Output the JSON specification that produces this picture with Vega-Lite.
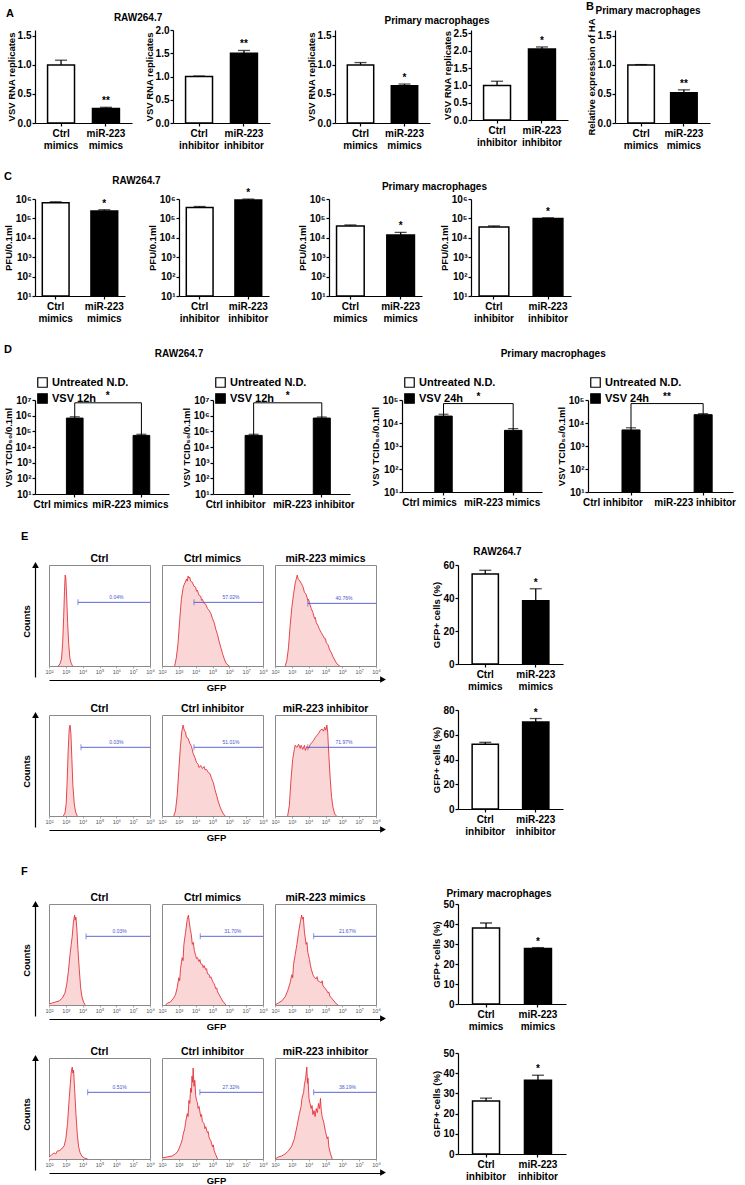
{
"$schema":"https://vega.github.io/schema/vega-lite/v6.json",
"background":"white",
"padding":{"left":3,"top":0,"right":2,"bottom":2},
"config":{
 "font":"Liberation Sans",
 "view":{"stroke":null},
 "axis":{"grid":false,"domainColor":"#000","domainWidth":1.2,"tickColor":"#000","tickWidth":1.2,"tickSize":3,"labelColor":"#000","labelFont":"Liberation Sans","labelFontWeight":"bold","labelFontSize":10,"labelPadding":1,"labelOverlap":false,"titleFont":"Liberation Sans","titleFontWeight":"bold","titleFontSize":9.5,"titleColor":"#000","titlePadding":1},
 "title":{"font":"Liberation Sans","fontWeight":"bold","fontSize":10,"color":"#000","offset":2}
},
"resolve":{"scale":{"fill":"independent"}},
"spacing":21,
"datasets":{
"bars":[
{"p":"A1","g":"Ctrl|mimics","t":"c","v":1.0,"hi":1.08,"s":""},
{"p":"A1","g":"miR-223|mimics","t":"m","v":0.25,"hi":0.27,"s":"**"},
{"p":"A2","g":"Ctrl|inhibitor","t":"c","v":1.0,"hi":1.01,"s":""},
{"p":"A2","g":"miR-223|inhibitor","t":"m","v":1.5,"hi":1.56,"s":"**"},
{"p":"A3","g":"Ctrl|mimics","t":"c","v":1.0,"hi":1.04,"s":""},
{"p":"A3","g":"miR-223|mimics","t":"m","v":0.64,"hi":0.67,"s":"*"},
{"p":"A4","g":"Ctrl|inhibitor","t":"c","v":1.0,"hi":1.12,"s":""},
{"p":"A4","g":"miR-223|inhibitor","t":"m","v":2.05,"hi":2.11,"s":"*"},
{"p":"B1","g":"Ctrl|mimics","t":"c","v":1.0,"hi":1.005,"s":""},
{"p":"B1","g":"miR-223|mimics","t":"m","v":0.52,"hi":0.57,"s":"**"},
{"p":"C1","g":"Ctrl|mimics","t":"c","v":650000,"hi":720000,"s":""},
{"p":"C1","g":"miR-223|mimics","t":"m","v":240000,"hi":280000,"s":"*"},
{"p":"C2","g":"Ctrl|inhibitor","t":"c","v":370000,"hi":410000,"s":""},
{"p":"C2","g":"miR-223|inhibitor","t":"m","v":890000,"hi":990000,"s":"*"},
{"p":"C3","g":"Ctrl|mimics","t":"c","v":41000,"hi":46000,"s":""},
{"p":"C3","g":"miR-223|mimics","t":"m","v":14000,"hi":19000,"s":"*"},
{"p":"C4","g":"Ctrl|inhibitor","t":"c","v":36000,"hi":41000,"s":""},
{"p":"C4","g":"miR-223|inhibitor","t":"m","v":98000,"hi":107000,"s":"*"},
{"p":"E1","g":"Ctrl|mimics","t":"c","v":54.5,"hi":56.8,"s":""},
{"p":"E1","g":"miR-223|mimics","t":"m","v":38.4,"hi":45.6,"s":"*"},
{"p":"E2","g":"Ctrl|inhibitor","t":"c","v":52.3,"hi":53.9,"s":""},
{"p":"E2","g":"miR-223|inhibitor","t":"m","v":70.4,"hi":73.1,"s":"*"},
{"p":"F1","g":"Ctrl|mimics","t":"c","v":38.0,"hi":40.5,"s":""},
{"p":"F1","g":"miR-223|mimics","t":"m","v":27.7,"hi":28.2,"s":"*"},
{"p":"F2","g":"Ctrl|inhibitor","t":"c","v":26.2,"hi":27.7,"s":""},
{"p":"F2","g":"miR-223|inhibitor","t":"m","v":36.5,"hi":39.0,"s":"*"}
],
"dbars":[
{"p":"D1","g":"Ctrl mimics","sr":"VSV 12h","v":700000,"hi":850000,"br":6600000},
{"p":"D1","g":"miR-223 mimics","sr":"VSV 12h","v":55000,"hi":65000,"br":6600000},
{"p":"D2","g":"Ctrl inhibitor","sr":"VSV 12h","v":55000,"hi":65000,"br":6600000},
{"p":"D2","g":"miR-223 inhibitor","sr":"VSV 12h","v":700000,"hi":820000,"br":6600000},
{"p":"D3","g":"Ctrl mimics","sr":"VSV 24h","v":20000,"hi":24000,"br":70000},
{"p":"D3","g":"miR-223 mimics","sr":"VSV 24h","v":4800,"hi":5700,"br":70000},
{"p":"D4","g":"Ctrl inhibitor","sr":"VSV 24h","v":5000,"hi":6200,"br":70000},
{"p":"D4","g":"miR-223 inhibitor","sr":"VSV 24h","v":23000,"hi":25500,"br":70000}
],
"brk":[
{"p":"D1","a":"Ctrl mimics","b":"miR-223 mimics","br":6600000,"s":"*"},
{"p":"D2","a":"Ctrl inhibitor","b":"miR-223 inhibitor","br":6600000,"s":"*"},
{"p":"D3","a":"Ctrl mimics","b":"miR-223 mimics","br":70000,"s":"*"},
{"p":"D4","a":"Ctrl inhibitor","b":"miR-223 inhibitor","br":70000,"s":"**"}
],
"gates":[
{"p":"E1a","x0":3.72,"x1":8,"y":0.63,"tx":6.0,"pct":"0.04%"},
{"p":"E1b","x0":3.9,"x1":8,"y":0.63,"tx":6.1,"pct":"57.02%"},
{"p":"E1c","x0":3.95,"x1":8,"y":0.62,"tx":6.1,"pct":"40.76%"},
{"p":"E2a","x0":3.9,"x1":8,"y":0.68,"tx":6.0,"pct":"0.03%"},
{"p":"E2b","x0":3.9,"x1":8,"y":0.68,"tx":6.1,"pct":"51.01%"},
{"p":"E2c","x0":3.95,"x1":8,"y":0.68,"tx":6.1,"pct":"71.97%"},
{"p":"F1a","x0":4.2,"x1":8,"y":0.68,"tx":6.2,"pct":"0.03%"},
{"p":"F1b","x0":4.27,"x1":8,"y":0.68,"tx":6.2,"pct":"31.70%"},
{"p":"F1c","x0":4.3,"x1":8,"y":0.68,"tx":6.3,"pct":"21.67%"},
{"p":"F2a","x0":4.3,"x1":8,"y":0.66,"tx":6.2,"pct":"0.51%"},
{"p":"F2b","x0":4.25,"x1":8,"y":0.66,"tx":6.1,"pct":"27.32%"},
{"p":"F2c","x0":4.3,"x1":8,"y":0.66,"tx":6.3,"pct":"38.19%"}
],
"hist":[
{"p":"E1a","lg":2.55,"c":0},{"p":"E1a","lg":2.65,"c":0.02},{"p":"E1a","lg":2.74,"c":0.07},{"p":"E1a","lg":2.81,"c":0.22},{"p":"E1a","lg":2.87,"c":0.48},{"p":"E1a","lg":2.92,"c":0.74},{"p":"E1a","lg":2.96,"c":0.9},{"p":"E1a","lg":3.0,"c":0.87},{"p":"E1a","lg":3.05,"c":0.68},{"p":"E1a","lg":3.11,"c":0.42},{"p":"E1a","lg":3.17,"c":0.22},{"p":"E1a","lg":3.24,"c":0.08},{"p":"E1a","lg":3.31,"c":0.03},{"p":"E1a","lg":3.4,"c":0},
{"p":"E1b","lg":2.75,"c":0},{"p":"E1b","lg":2.85,"c":0.08},{"p":"E1b","lg":2.95,"c":0.22},{"p":"E1b","lg":3.05,"c":0.45},{"p":"E1b","lg":3.15,"c":0.66},{"p":"E1b","lg":3.25,"c":0.77},{"p":"E1b","lg":3.3,"c":0.8},{"p":"E1b","lg":3.38,"c":0.83},{"p":"E1b","lg":3.45,"c":0.86},{"p":"E1b","lg":3.5,"c":0.84},{"p":"E1b","lg":3.55,"c":0.89},{"p":"E1b","lg":3.6,"c":0.87},{"p":"E1b","lg":3.65,"c":0.88},{"p":"E1b","lg":3.7,"c":0.84},{"p":"E1b","lg":3.8,"c":0.83},{"p":"E1b","lg":3.9,"c":0.79},{"p":"E1b","lg":4.0,"c":0.78},{"p":"E1b","lg":4.05,"c":0.74},{"p":"E1b","lg":4.1,"c":0.75},{"p":"E1b","lg":4.2,"c":0.7},{"p":"E1b","lg":4.3,"c":0.69},{"p":"E1b","lg":4.35,"c":0.65},{"p":"E1b","lg":4.4,"c":0.66},{"p":"E1b","lg":4.5,"c":0.62},{"p":"E1b","lg":4.6,"c":0.61},{"p":"E1b","lg":4.7,"c":0.57},{"p":"E1b","lg":4.8,"c":0.55},{"p":"E1b","lg":4.9,"c":0.52},{"p":"E1b","lg":5.0,"c":0.47},{"p":"E1b","lg":5.1,"c":0.43},{"p":"E1b","lg":5.2,"c":0.36},{"p":"E1b","lg":5.3,"c":0.31},{"p":"E1b","lg":5.4,"c":0.24},{"p":"E1b","lg":5.5,"c":0.18},{"p":"E1b","lg":5.6,"c":0.12},{"p":"E1b","lg":5.7,"c":0.07},{"p":"E1b","lg":5.8,"c":0.03},{"p":"E1b","lg":5.9,"c":0.01},{"p":"E1b","lg":6.0,"c":0},
{"p":"E1c","lg":2.6,"c":0},{"p":"E1c","lg":2.7,"c":0.05},{"p":"E1c","lg":2.8,"c":0.18},{"p":"E1c","lg":2.9,"c":0.4},{"p":"E1c","lg":3.0,"c":0.58},{"p":"E1c","lg":3.1,"c":0.71},{"p":"E1c","lg":3.2,"c":0.82},{"p":"E1c","lg":3.26,"c":0.86},{"p":"E1c","lg":3.32,"c":0.9},{"p":"E1c","lg":3.38,"c":0.86},{"p":"E1c","lg":3.45,"c":0.85},{"p":"E1c","lg":3.55,"c":0.82},{"p":"E1c","lg":3.65,"c":0.79},{"p":"E1c","lg":3.75,"c":0.73},{"p":"E1c","lg":3.85,"c":0.71},{"p":"E1c","lg":3.95,"c":0.65},{"p":"E1c","lg":4.0,"c":0.66},{"p":"E1c","lg":4.05,"c":0.62},{"p":"E1c","lg":4.15,"c":0.57},{"p":"E1c","lg":4.25,"c":0.53},{"p":"E1c","lg":4.35,"c":0.47},{"p":"E1c","lg":4.4,"c":0.48},{"p":"E1c","lg":4.45,"c":0.43},{"p":"E1c","lg":4.55,"c":0.4},{"p":"E1c","lg":4.65,"c":0.36},{"p":"E1c","lg":4.75,"c":0.33},{"p":"E1c","lg":4.85,"c":0.3},{"p":"E1c","lg":4.95,"c":0.27},{"p":"E1c","lg":5.0,"c":0.27},{"p":"E1c","lg":5.05,"c":0.23},{"p":"E1c","lg":5.15,"c":0.21},{"p":"E1c","lg":5.25,"c":0.16},{"p":"E1c","lg":5.35,"c":0.13},{"p":"E1c","lg":5.45,"c":0.09},{"p":"E1c","lg":5.55,"c":0.06},{"p":"E1c","lg":5.65,"c":0.03},{"p":"E1c","lg":5.75,"c":0.01},{"p":"E1c","lg":5.85,"c":0},
{"p":"E2a","lg":2.85,"c":0},{"p":"E2a","lg":2.95,"c":0.03},{"p":"E2a","lg":3.02,"c":0.12},{"p":"E2a","lg":3.08,"c":0.35},{"p":"E2a","lg":3.14,"c":0.65},{"p":"E2a","lg":3.2,"c":0.86},{"p":"E2a","lg":3.25,"c":0.9},{"p":"E2a","lg":3.3,"c":0.82},{"p":"E2a","lg":3.36,"c":0.56},{"p":"E2a","lg":3.42,"c":0.3},{"p":"E2a","lg":3.5,"c":0.12},{"p":"E2a","lg":3.58,"c":0.04},{"p":"E2a","lg":3.68,"c":0},
{"p":"E2b","lg":2.7,"c":0},{"p":"E2b","lg":2.8,"c":0.05},{"p":"E2b","lg":2.9,"c":0.2},{"p":"E2b","lg":3.0,"c":0.46},{"p":"E2b","lg":3.1,"c":0.7},{"p":"E2b","lg":3.18,"c":0.84},{"p":"E2b","lg":3.25,"c":0.9},{"p":"E2b","lg":3.32,"c":0.85},{"p":"E2b","lg":3.4,"c":0.83},{"p":"E2b","lg":3.45,"c":0.78},{"p":"E2b","lg":3.55,"c":0.77},{"p":"E2b","lg":3.65,"c":0.72},{"p":"E2b","lg":3.75,"c":0.69},{"p":"E2b","lg":3.85,"c":0.62},{"p":"E2b","lg":3.95,"c":0.58},{"p":"E2b","lg":4.05,"c":0.53},{"p":"E2b","lg":4.15,"c":0.51},{"p":"E2b","lg":4.2,"c":0.48},{"p":"E2b","lg":4.3,"c":0.5},{"p":"E2b","lg":4.4,"c":0.47},{"p":"E2b","lg":4.5,"c":0.49},{"p":"E2b","lg":4.55,"c":0.46},{"p":"E2b","lg":4.65,"c":0.46},{"p":"E2b","lg":4.75,"c":0.43},{"p":"E2b","lg":4.85,"c":0.42},{"p":"E2b","lg":4.95,"c":0.37},{"p":"E2b","lg":5.05,"c":0.33},{"p":"E2b","lg":5.15,"c":0.26},{"p":"E2b","lg":5.25,"c":0.2},{"p":"E2b","lg":5.35,"c":0.14},{"p":"E2b","lg":5.45,"c":0.09},{"p":"E2b","lg":5.55,"c":0.05},{"p":"E2b","lg":5.65,"c":0.02},{"p":"E2b","lg":5.75,"c":0},
{"p":"E2c","lg":2.75,"c":0},{"p":"E2c","lg":2.85,"c":0.1},{"p":"E2c","lg":2.95,"c":0.36},{"p":"E2c","lg":3.05,"c":0.56},{"p":"E2c","lg":3.15,"c":0.66},{"p":"E2c","lg":3.2,"c":0.7},{"p":"E2c","lg":3.3,"c":0.68},{"p":"E2c","lg":3.4,"c":0.71},{"p":"E2c","lg":3.5,"c":0.67},{"p":"E2c","lg":3.55,"c":0.7},{"p":"E2c","lg":3.65,"c":0.66},{"p":"E2c","lg":3.75,"c":0.7},{"p":"E2c","lg":3.8,"c":0.65},{"p":"E2c","lg":3.9,"c":0.69},{"p":"E2c","lg":4.0,"c":0.67},{"p":"E2c","lg":4.1,"c":0.71},{"p":"E2c","lg":4.2,"c":0.73},{"p":"E2c","lg":4.3,"c":0.75},{"p":"E2c","lg":4.4,"c":0.78},{"p":"E2c","lg":4.5,"c":0.8},{"p":"E2c","lg":4.6,"c":0.82},{"p":"E2c","lg":4.7,"c":0.85},{"p":"E2c","lg":4.8,"c":0.86},{"p":"E2c","lg":4.88,"c":0.84},{"p":"E2c","lg":4.95,"c":0.88},{"p":"E2c","lg":5.02,"c":0.85},{"p":"E2c","lg":5.08,"c":0.9},{"p":"E2c","lg":5.13,"c":0.83},{"p":"E2c","lg":5.2,"c":0.6},{"p":"E2c","lg":5.28,"c":0.37},{"p":"E2c","lg":5.36,"c":0.19},{"p":"E2c","lg":5.45,"c":0.08},{"p":"E2c","lg":5.55,"c":0.02},{"p":"E2c","lg":5.65,"c":0},
{"p":"F1a","lg":2.0,"c":0.01},{"p":"F1a","lg":2.2,"c":0.02},{"p":"F1a","lg":2.4,"c":0.03},{"p":"F1a","lg":2.6,"c":0.04},{"p":"F1a","lg":2.8,"c":0.07},{"p":"F1a","lg":2.95,"c":0.12},{"p":"F1a","lg":3.05,"c":0.2},{"p":"F1a","lg":3.15,"c":0.33},{"p":"F1a","lg":3.25,"c":0.5},{"p":"F1a","lg":3.32,"c":0.6},{"p":"F1a","lg":3.38,"c":0.68},{"p":"F1a","lg":3.45,"c":0.82},{"p":"F1a","lg":3.52,"c":0.89},{"p":"F1a","lg":3.56,"c":0.84},{"p":"F1a","lg":3.6,"c":0.87},{"p":"F1a","lg":3.66,"c":0.74},{"p":"F1a","lg":3.72,"c":0.55},{"p":"F1a","lg":3.8,"c":0.35},{"p":"F1a","lg":3.88,"c":0.17},{"p":"F1a","lg":3.96,"c":0.08},{"p":"F1a","lg":4.05,"c":0.03},{"p":"F1a","lg":4.15,"c":0},
{"p":"F1b","lg":2.2,"c":0},{"p":"F1b","lg":2.35,"c":0.02},{"p":"F1b","lg":2.5,"c":0.03},{"p":"F1b","lg":2.65,"c":0.06},{"p":"F1b","lg":2.8,"c":0.1},{"p":"F1b","lg":2.9,"c":0.17},{"p":"F1b","lg":3.0,"c":0.27},{"p":"F1b","lg":3.05,"c":0.24},{"p":"F1b","lg":3.1,"c":0.36},{"p":"F1b","lg":3.2,"c":0.47},{"p":"F1b","lg":3.25,"c":0.44},{"p":"F1b","lg":3.3,"c":0.6},{"p":"F1b","lg":3.4,"c":0.72},{"p":"F1b","lg":3.5,"c":0.85},{"p":"F1b","lg":3.57,"c":0.89},{"p":"F1b","lg":3.62,"c":0.82},{"p":"F1b","lg":3.68,"c":0.75},{"p":"F1b","lg":3.74,"c":0.7},{"p":"F1b","lg":3.8,"c":0.6},{"p":"F1b","lg":3.86,"c":0.62},{"p":"F1b","lg":3.92,"c":0.54},{"p":"F1b","lg":4.0,"c":0.49},{"p":"F1b","lg":4.05,"c":0.46},{"p":"F1b","lg":4.1,"c":0.47},{"p":"F1b","lg":4.2,"c":0.43},{"p":"F1b","lg":4.25,"c":0.45},{"p":"F1b","lg":4.3,"c":0.41},{"p":"F1b","lg":4.4,"c":0.4},{"p":"F1b","lg":4.45,"c":0.37},{"p":"F1b","lg":4.5,"c":0.39},{"p":"F1b","lg":4.6,"c":0.35},{"p":"F1b","lg":4.65,"c":0.36},{"p":"F1b","lg":4.7,"c":0.31},{"p":"F1b","lg":4.8,"c":0.3},{"p":"F1b","lg":4.85,"c":0.27},{"p":"F1b","lg":4.9,"c":0.28},{"p":"F1b","lg":5.0,"c":0.24},{"p":"F1b","lg":5.05,"c":0.22},{"p":"F1b","lg":5.1,"c":0.21},{"p":"F1b","lg":5.2,"c":0.16},{"p":"F1b","lg":5.25,"c":0.17},{"p":"F1b","lg":5.3,"c":0.13},{"p":"F1b","lg":5.4,"c":0.1},{"p":"F1b","lg":5.5,"c":0.07},{"p":"F1b","lg":5.6,"c":0.04},{"p":"F1b","lg":5.7,"c":0.02},{"p":"F1b","lg":5.8,"c":0},
{"p":"F1c","lg":2.0,"c":0},{"p":"F1c","lg":2.2,"c":0.02},{"p":"F1c","lg":2.4,"c":0.04},{"p":"F1c","lg":2.6,"c":0.08},{"p":"F1c","lg":2.75,"c":0.14},{"p":"F1c","lg":2.9,"c":0.22},{"p":"F1c","lg":3.0,"c":0.3},{"p":"F1c","lg":3.05,"c":0.27},{"p":"F1c","lg":3.1,"c":0.4},{"p":"F1c","lg":3.2,"c":0.5},{"p":"F1c","lg":3.3,"c":0.6},{"p":"F1c","lg":3.4,"c":0.72},{"p":"F1c","lg":3.5,"c":0.82},{"p":"F1c","lg":3.58,"c":0.89},{"p":"F1c","lg":3.63,"c":0.85},{"p":"F1c","lg":3.68,"c":0.87},{"p":"F1c","lg":3.75,"c":0.72},{"p":"F1c","lg":3.85,"c":0.6},{"p":"F1c","lg":3.9,"c":0.62},{"p":"F1c","lg":3.95,"c":0.52},{"p":"F1c","lg":4.05,"c":0.45},{"p":"F1c","lg":4.1,"c":0.4},{"p":"F1c","lg":4.15,"c":0.36},{"p":"F1c","lg":4.25,"c":0.3},{"p":"F1c","lg":4.35,"c":0.27},{"p":"F1c","lg":4.45,"c":0.26},{"p":"F1c","lg":4.5,"c":0.28},{"p":"F1c","lg":4.55,"c":0.24},{"p":"F1c","lg":4.65,"c":0.23},{"p":"F1c","lg":4.75,"c":0.22},{"p":"F1c","lg":4.8,"c":0.24},{"p":"F1c","lg":4.85,"c":0.19},{"p":"F1c","lg":4.95,"c":0.17},{"p":"F1c","lg":5.05,"c":0.15},{"p":"F1c","lg":5.15,"c":0.12},{"p":"F1c","lg":5.2,"c":0.13},{"p":"F1c","lg":5.25,"c":0.09},{"p":"F1c","lg":5.35,"c":0.07},{"p":"F1c","lg":5.45,"c":0.05},{"p":"F1c","lg":5.55,"c":0.03},{"p":"F1c","lg":5.65,"c":0.01},{"p":"F1c","lg":5.75,"c":0},
{"p":"F2a","lg":2.0,"c":0.02},{"p":"F2a","lg":2.15,"c":0.04},{"p":"F2a","lg":2.3,"c":0.06},{"p":"F2a","lg":2.4,"c":0.05},{"p":"F2a","lg":2.5,"c":0.08},{"p":"F2a","lg":2.6,"c":0.08},{"p":"F2a","lg":2.75,"c":0.1},{"p":"F2a","lg":2.9,"c":0.13},{"p":"F2a","lg":3.0,"c":0.2},{"p":"F2a","lg":3.1,"c":0.35},{"p":"F2a","lg":3.2,"c":0.6},{"p":"F2a","lg":3.27,"c":0.75},{"p":"F2a","lg":3.32,"c":0.86},{"p":"F2a","lg":3.38,"c":0.91},{"p":"F2a","lg":3.42,"c":0.85},{"p":"F2a","lg":3.46,"c":0.88},{"p":"F2a","lg":3.52,"c":0.7},{"p":"F2a","lg":3.6,"c":0.45},{"p":"F2a","lg":3.68,"c":0.25},{"p":"F2a","lg":3.76,"c":0.12},{"p":"F2a","lg":3.85,"c":0.06},{"p":"F2a","lg":3.95,"c":0.03},{"p":"F2a","lg":4.1,"c":0.01},{"p":"F2a","lg":4.3,"c":0},
{"p":"F2b","lg":2.0,"c":0.01},{"p":"F2b","lg":2.3,"c":0.02},{"p":"F2b","lg":2.6,"c":0.03},{"p":"F2b","lg":2.8,"c":0.05},{"p":"F2b","lg":2.95,"c":0.08},{"p":"F2b","lg":3.1,"c":0.14},{"p":"F2b","lg":3.2,"c":0.19},{"p":"F2b","lg":3.25,"c":0.24},{"p":"F2b","lg":3.35,"c":0.3},{"p":"F2b","lg":3.4,"c":0.36},{"p":"F2b","lg":3.5,"c":0.45},{"p":"F2b","lg":3.55,"c":0.42},{"p":"F2b","lg":3.6,"c":0.58},{"p":"F2b","lg":3.65,"c":0.55},{"p":"F2b","lg":3.7,"c":0.7},{"p":"F2b","lg":3.75,"c":0.66},{"p":"F2b","lg":3.78,"c":0.82},{"p":"F2b","lg":3.82,"c":0.76},{"p":"F2b","lg":3.85,"c":0.9},{"p":"F2b","lg":3.9,"c":0.72},{"p":"F2b","lg":3.95,"c":0.78},{"p":"F2b","lg":4.0,"c":0.63},{"p":"F2b","lg":4.05,"c":0.58},{"p":"F2b","lg":4.1,"c":0.56},{"p":"F2b","lg":4.15,"c":0.5},{"p":"F2b","lg":4.2,"c":0.52},{"p":"F2b","lg":4.3,"c":0.42},{"p":"F2b","lg":4.35,"c":0.44},{"p":"F2b","lg":4.4,"c":0.37},{"p":"F2b","lg":4.5,"c":0.35},{"p":"F2b","lg":4.55,"c":0.3},{"p":"F2b","lg":4.6,"c":0.32},{"p":"F2b","lg":4.7,"c":0.26},{"p":"F2b","lg":4.75,"c":0.27},{"p":"F2b","lg":4.8,"c":0.21},{"p":"F2b","lg":4.9,"c":0.18},{"p":"F2b","lg":5.0,"c":0.12},{"p":"F2b","lg":5.05,"c":0.14},{"p":"F2b","lg":5.1,"c":0.08},{"p":"F2b","lg":5.2,"c":0.04},{"p":"F2b","lg":5.3,"c":0},
{"p":"F2c","lg":2.0,"c":0},{"p":"F2c","lg":2.2,"c":0.02},{"p":"F2c","lg":2.4,"c":0.03},{"p":"F2c","lg":2.6,"c":0.05},{"p":"F2c","lg":2.8,"c":0.08},{"p":"F2c","lg":3.0,"c":0.13},{"p":"F2c","lg":3.15,"c":0.2},{"p":"F2c","lg":3.3,"c":0.32},{"p":"F2c","lg":3.45,"c":0.45},{"p":"F2c","lg":3.55,"c":0.52},{"p":"F2c","lg":3.6,"c":0.6},{"p":"F2c","lg":3.7,"c":0.66},{"p":"F2c","lg":3.75,"c":0.74},{"p":"F2c","lg":3.82,"c":0.8},{"p":"F2c","lg":3.89,"c":0.91},{"p":"F2c","lg":3.93,"c":0.75},{"p":"F2c","lg":3.96,"c":0.8},{"p":"F2c","lg":4.02,"c":0.6},{"p":"F2c","lg":4.08,"c":0.55},{"p":"F2c","lg":4.15,"c":0.5},{"p":"F2c","lg":4.2,"c":0.53},{"p":"F2c","lg":4.25,"c":0.44},{"p":"F2c","lg":4.32,"c":0.48},{"p":"F2c","lg":4.38,"c":0.42},{"p":"F2c","lg":4.45,"c":0.5},{"p":"F2c","lg":4.52,"c":0.46},{"p":"F2c","lg":4.58,"c":0.55},{"p":"F2c","lg":4.65,"c":0.5},{"p":"F2c","lg":4.7,"c":0.6},{"p":"F2c","lg":4.75,"c":0.48},{"p":"F2c","lg":4.8,"c":0.42},{"p":"F2c","lg":4.9,"c":0.36},{"p":"F2c","lg":5.0,"c":0.27},{"p":"F2c","lg":5.1,"c":0.2},{"p":"F2c","lg":5.15,"c":0.22},{"p":"F2c","lg":5.2,"c":0.12},{"p":"F2c","lg":5.3,"c":0.05},{"p":"F2c","lg":5.4,"c":0}
]
},
"vconcat":[
{"spacing":21,"resolve":{"scale":{"fill":"independent"}},"vconcat":[
{"spacing":18,"resolve":{"scale":{"fill":"independent"}},"hconcat":[
 {"title":{"text":"A","anchor":"start","fontSize":11,"offset":-6},"spacing":36,"hconcat":[
  {"title":{"text":"RAW264.7","anchor":"middle"},"spacing":12,"hconcat":[
   {"width":97,"height":93,"data":{"name":"bars"},"transform":[{"filter":"datum.p==='A1'"}],
    "encoding":{"x":{"field":"g","type":"nominal","sort":null,"title":null,"scale":{"paddingInner":0.4,"paddingOuter":0.28},"axis":{"labelExpr":"split(datum.label,'|')","labelAngle":0,"labelLineHeight":12,"labelPadding":2}}},
    "layer":[
     {"mark":{"type":"bar","stroke":"#000","strokeWidth":1.5},"encoding":{"y":{"field":"v","type":"quantitative","title":"VSV RNA replicates","scale":{"domain":[0,1.5]},"axis":{"values":[0,0.5,1,1.5],"format":".1f"}},"fill":{"field":"t","type":"nominal","scale":{"domain":["c","m"],"range":["#ffffff","#000000"]},"legend":null}}},
     {"mark":{"type":"rule","strokeWidth":1.3,"color":"#000"},"encoding":{"y":{"field":"v","type":"quantitative","title":"VSV RNA replicates","axis":{"values":[0,0.5,1,1.5],"format":".1f"}},"y2":{"field":"hi"}}},
     {"mark":{"type":"tick","thickness":1.3,"size":12,"color":"#000"},"encoding":{"y":{"field":"hi","type":"quantitative","title":"VSV RNA replicates","axis":{"values":[0,0.5,1,1.5],"format":".1f"}}}},
     {"mark":{"type":"text","dy":-6,"fontWeight":"bold","fontSize":10,"color":"#000"},"encoding":{"y":{"field":"hi","type":"quantitative","title":"VSV RNA replicates","axis":{"values":[0,0.5,1,1.5],"format":".1f"}},"text":{"field":"s"}}}
    ]},
   {"width":97,"height":93,"data":{"name":"bars"},"transform":[{"filter":"datum.p==='A2'"}],
    "encoding":{"x":{"field":"g","type":"nominal","sort":null,"title":null,"scale":{"paddingInner":0.4,"paddingOuter":0.28},"axis":{"labelExpr":"split(datum.label,'|')","labelAngle":0,"labelLineHeight":12,"labelPadding":2}}},
    "layer":[
     {"mark":{"type":"bar","stroke":"#000","strokeWidth":1.5},"encoding":{"y":{"field":"v","type":"quantitative","title":"VSV RNA replicates","scale":{"domain":[0,2]},"axis":{"values":[0,0.5,1,1.5,2],"format":".1f"}},"fill":{"field":"t","type":"nominal","scale":{"domain":["c","m"],"range":["#ffffff","#000000"]},"legend":null}}},
     {"mark":{"type":"rule","strokeWidth":1.3,"color":"#000"},"encoding":{"y":{"field":"v","type":"quantitative","title":"VSV RNA replicates","axis":{"values":[0,0.5,1,1.5,2],"format":".1f"}},"y2":{"field":"hi"}}},
     {"mark":{"type":"tick","thickness":1.3,"size":12,"color":"#000"},"encoding":{"y":{"field":"hi","type":"quantitative","title":"VSV RNA replicates","axis":{"values":[0,0.5,1,1.5,2],"format":".1f"}}}},
     {"mark":{"type":"text","dy":-6,"fontWeight":"bold","fontSize":10,"color":"#000"},"encoding":{"y":{"field":"hi","type":"quantitative","title":"VSV RNA replicates","axis":{"values":[0,0.5,1,1.5,2],"format":".1f"}},"text":{"field":"s"}}}
    ]}
  ]},
  {"title":{"text":"Primary macrophages","anchor":"middle"},"spacing":12,"hconcat":[
   {"width":95,"height":93,"data":{"name":"bars"},"transform":[{"filter":"datum.p==='A3'"}],
    "encoding":{"x":{"field":"g","type":"nominal","sort":null,"title":null,"scale":{"paddingInner":0.4,"paddingOuter":0.28},"axis":{"labelExpr":"split(datum.label,'|')","labelAngle":0,"labelLineHeight":12,"labelPadding":2}}},
    "layer":[
     {"mark":{"type":"bar","stroke":"#000","strokeWidth":1.5},"encoding":{"y":{"field":"v","type":"quantitative","title":"VSV RNA replicates","scale":{"domain":[0,1.5]},"axis":{"values":[0,0.5,1,1.5],"format":".1f"}},"fill":{"field":"t","type":"nominal","scale":{"domain":["c","m"],"range":["#ffffff","#000000"]},"legend":null}}},
     {"mark":{"type":"rule","strokeWidth":1.3,"color":"#000"},"encoding":{"y":{"field":"v","type":"quantitative","title":"VSV RNA replicates","axis":{"values":[0,0.5,1,1.5],"format":".1f"}},"y2":{"field":"hi"}}},
     {"mark":{"type":"tick","thickness":1.3,"size":12,"color":"#000"},"encoding":{"y":{"field":"hi","type":"quantitative","title":"VSV RNA replicates","axis":{"values":[0,0.5,1,1.5],"format":".1f"}}}},
     {"mark":{"type":"text","dy":-6,"fontWeight":"bold","fontSize":10,"color":"#000"},"encoding":{"y":{"field":"hi","type":"quantitative","title":"VSV RNA replicates","axis":{"values":[0,0.5,1,1.5],"format":".1f"}},"text":{"field":"s"}}}
    ]},
   {"width":97,"height":90,"data":{"name":"bars"},"transform":[{"filter":"datum.p==='A4'"}],
    "encoding":{"x":{"field":"g","type":"nominal","sort":null,"title":null,"scale":{"paddingInner":0.4,"paddingOuter":0.28},"axis":{"labelExpr":"split(datum.label,'|')","labelAngle":0,"labelLineHeight":12,"labelPadding":2}}},
    "layer":[
     {"mark":{"type":"bar","stroke":"#000","strokeWidth":1.5},"encoding":{"y":{"field":"v","type":"quantitative","title":"VSV RNA replicates","scale":{"domain":[0,2.5]},"axis":{"values":[0,0.5,1,1.5,2,2.5],"format":".1f"}},"fill":{"field":"t","type":"nominal","scale":{"domain":["c","m"],"range":["#ffffff","#000000"]},"legend":null}}},
     {"mark":{"type":"rule","strokeWidth":1.3,"color":"#000"},"encoding":{"y":{"field":"v","type":"quantitative","title":"VSV RNA replicates","axis":{"values":[0,0.5,1,1.5,2,2.5],"format":".1f"}},"y2":{"field":"hi"}}},
     {"mark":{"type":"tick","thickness":1.3,"size":12,"color":"#000"},"encoding":{"y":{"field":"hi","type":"quantitative","title":"VSV RNA replicates","axis":{"values":[0,0.5,1,1.5,2,2.5],"format":".1f"}}}},
     {"mark":{"type":"text","dy":-6,"fontWeight":"bold","fontSize":10,"color":"#000"},"encoding":{"y":{"field":"hi","type":"quantitative","title":"VSV RNA replicates","axis":{"values":[0,0.5,1,1.5,2,2.5],"format":".1f"}},"text":{"field":"s"}}}
    ]}
  ]}
 ]},
 {"title":{"text":"B","anchor":"start","fontSize":11,"offset":-6},"hconcat":[
  {"title":{"text":"Primary macrophages","anchor":"middle"},"hconcat":[
   {"width":95,"height":93,"data":{"name":"bars"},"transform":[{"filter":"datum.p==='B1'"}],
    "encoding":{"x":{"field":"g","type":"nominal","sort":null,"title":null,"scale":{"paddingInner":0.38,"paddingOuter":0.3},"axis":{"labelExpr":"split(datum.label,'|')","labelAngle":0,"labelLineHeight":12,"labelPadding":2}}},
    "layer":[
     {"mark":{"type":"bar","stroke":"#000","strokeWidth":1.5},"encoding":{"y":{"field":"v","type":"quantitative","title":"Relative expression of HA","scale":{"domain":[0,1.5]},"axis":{"values":[0,0.5,1,1.5],"format":".1f"}},"fill":{"field":"t","type":"nominal","scale":{"domain":["c","m"],"range":["#ffffff","#000000"]},"legend":null}}},
     {"mark":{"type":"rule","strokeWidth":1.3,"color":"#000"},"encoding":{"y":{"field":"v","type":"quantitative","title":"Relative expression of HA","axis":{"values":[0,0.5,1,1.5],"format":".1f"}},"y2":{"field":"hi"}}},
     {"mark":{"type":"tick","thickness":1.3,"size":12,"color":"#000"},"encoding":{"y":{"field":"hi","type":"quantitative","title":"Relative expression of HA","axis":{"values":[0,0.5,1,1.5],"format":".1f"}}}},
     {"mark":{"type":"text","dy":-6,"fontWeight":"bold","fontSize":10,"color":"#000"},"encoding":{"y":{"field":"hi","type":"quantitative","title":"Relative expression of HA","axis":{"values":[0,0.5,1,1.5],"format":".1f"}},"text":{"field":"s"}}}
    ]}
  ]}
 ]}
]},
{"title":{"text":"C","anchor":"start","fontSize":11,"offset":-6},"spacing":28,"resolve":{"scale":{"fill":"independent"}},"hconcat":[
 {"title":{"text":"RAW264.7","anchor":"middle"},"spacing":22,"hconcat":[
  {"width":90,"height":97,"data":{"name":"bars"},"transform":[{"filter":"datum.p==='C1'"}],
   "encoding":{"x":{"field":"g","type":"nominal","sort":null,"title":null,"scale":{"paddingInner":0.45,"paddingOuter":0.15},"axis":{"labelExpr":"split(datum.label,'|')","labelAngle":0,"labelLineHeight":12,"labelPadding":2}}},
   "layer":[
    {"mark":{"type":"bar","stroke":"#000","strokeWidth":1.5},"encoding":{"y":{"field":"v","type":"quantitative","title":"PFU/0.1ml","scale":{"type":"log","domain":[10,1000000]},"axis":{"values":[10,100,1000,10000,100000,1000000],"labelExpr":"'10'+['⁰','¹','²','³','⁴','⁵','⁶','⁷','⁸'][round(log(datum.value)/LN10)]"}},"y2":{"datum":10},"fill":{"field":"t","type":"nominal","scale":{"domain":["c","m"],"range":["#ffffff","#000000"]},"legend":null}}},
    {"mark":{"type":"rule","strokeWidth":1.3,"color":"#000"},"encoding":{"y":{"field":"v","type":"quantitative","title":"PFU/0.1ml","axis":{"values":[10,100,1000,10000,100000,1000000],"labelExpr":"'10'+['⁰','¹','²','³','⁴','⁵','⁶','⁷','⁸'][round(log(datum.value)/LN10)]"}},"y2":{"field":"hi"}}},
    {"mark":{"type":"tick","thickness":1.3,"size":12,"color":"#000"},"encoding":{"y":{"field":"hi","type":"quantitative","title":"PFU/0.1ml","axis":{"values":[10,100,1000,10000,100000,1000000],"labelExpr":"'10'+['⁰','¹','²','³','⁴','⁵','⁶','⁷','⁸'][round(log(datum.value)/LN10)]"}}}},
    {"mark":{"type":"text","dy":-6,"fontWeight":"bold","fontSize":10,"color":"#000"},"encoding":{"y":{"field":"hi","type":"quantitative","title":"PFU/0.1ml","axis":{"values":[10,100,1000,10000,100000,1000000],"labelExpr":"'10'+['⁰','¹','²','³','⁴','⁵','⁶','⁷','⁸'][round(log(datum.value)/LN10)]"}},"text":{"field":"s"}}}
   ]},
  {"width":90,"height":97,"data":{"name":"bars"},"transform":[{"filter":"datum.p==='C2'"}],
   "encoding":{"x":{"field":"g","type":"nominal","sort":null,"title":null,"scale":{"paddingInner":0.45,"paddingOuter":0.15},"axis":{"labelExpr":"split(datum.label,'|')","labelAngle":0,"labelLineHeight":12,"labelPadding":2}}},
   "layer":[
    {"mark":{"type":"bar","stroke":"#000","strokeWidth":1.5},"encoding":{"y":{"field":"v","type":"quantitative","title":"PFU/0.1ml","scale":{"type":"log","domain":[10,1000000]},"axis":{"values":[10,100,1000,10000,100000,1000000],"labelExpr":"'10'+['⁰','¹','²','³','⁴','⁵','⁶','⁷','⁸'][round(log(datum.value)/LN10)]"}},"y2":{"datum":10},"fill":{"field":"t","type":"nominal","scale":{"domain":["c","m"],"range":["#ffffff","#000000"]},"legend":null}}},
    {"mark":{"type":"rule","strokeWidth":1.3,"color":"#000"},"encoding":{"y":{"field":"v","type":"quantitative","title":"PFU/0.1ml","axis":{"values":[10,100,1000,10000,100000,1000000],"labelExpr":"'10'+['⁰','¹','²','³','⁴','⁵','⁶','⁷','⁸'][round(log(datum.value)/LN10)]"}},"y2":{"field":"hi"}}},
    {"mark":{"type":"tick","thickness":1.3,"size":12,"color":"#000"},"encoding":{"y":{"field":"hi","type":"quantitative","title":"PFU/0.1ml","axis":{"values":[10,100,1000,10000,100000,1000000],"labelExpr":"'10'+['⁰','¹','²','³','⁴','⁵','⁶','⁷','⁸'][round(log(datum.value)/LN10)]"}}}},
    {"mark":{"type":"text","dy":-6,"fontWeight":"bold","fontSize":10,"color":"#000"},"encoding":{"y":{"field":"hi","type":"quantitative","title":"PFU/0.1ml","axis":{"values":[10,100,1000,10000,100000,1000000],"labelExpr":"'10'+['⁰','¹','²','³','⁴','⁵','⁶','⁷','⁸'][round(log(datum.value)/LN10)]"}},"text":{"field":"s"}}}
   ]}
 ]},
 {"title":{"text":"Primary macrophages","anchor":"middle"},"spacing":17,"hconcat":[
  {"width":93,"height":97,"data":{"name":"bars"},"transform":[{"filter":"datum.p==='C3'"}],
   "encoding":{"x":{"field":"g","type":"nominal","sort":null,"title":null,"scale":{"paddingInner":0.45,"paddingOuter":0.15},"axis":{"labelExpr":"split(datum.label,'|')","labelAngle":0,"labelLineHeight":12,"labelPadding":2}}},
   "layer":[
    {"mark":{"type":"bar","stroke":"#000","strokeWidth":1.5},"encoding":{"y":{"field":"v","type":"quantitative","title":"PFU/0.1ml","scale":{"type":"log","domain":[10,1000000]},"axis":{"values":[10,100,1000,10000,100000,1000000],"labelExpr":"'10'+['⁰','¹','²','³','⁴','⁵','⁶','⁷','⁸'][round(log(datum.value)/LN10)]"}},"y2":{"datum":10},"fill":{"field":"t","type":"nominal","scale":{"domain":["c","m"],"range":["#ffffff","#000000"]},"legend":null}}},
    {"mark":{"type":"rule","strokeWidth":1.3,"color":"#000"},"encoding":{"y":{"field":"v","type":"quantitative","title":"PFU/0.1ml","axis":{"values":[10,100,1000,10000,100000,1000000],"labelExpr":"'10'+['⁰','¹','²','³','⁴','⁵','⁶','⁷','⁸'][round(log(datum.value)/LN10)]"}},"y2":{"field":"hi"}}},
    {"mark":{"type":"tick","thickness":1.3,"size":12,"color":"#000"},"encoding":{"y":{"field":"hi","type":"quantitative","title":"PFU/0.1ml","axis":{"values":[10,100,1000,10000,100000,1000000],"labelExpr":"'10'+['⁰','¹','²','³','⁴','⁵','⁶','⁷','⁸'][round(log(datum.value)/LN10)]"}}}},
    {"mark":{"type":"text","dy":-6,"fontWeight":"bold","fontSize":10,"color":"#000"},"encoding":{"y":{"field":"hi","type":"quantitative","title":"PFU/0.1ml","axis":{"values":[10,100,1000,10000,100000,1000000],"labelExpr":"'10'+['⁰','¹','²','³','⁴','⁵','⁶','⁷','⁸'][round(log(datum.value)/LN10)]"}},"text":{"field":"s"}}}
   ]},
  {"width":100,"height":97,"data":{"name":"bars"},"transform":[{"filter":"datum.p==='C4'"}],
   "encoding":{"x":{"field":"g","type":"nominal","sort":null,"title":null,"scale":{"paddingInner":0.45,"paddingOuter":0.15},"axis":{"labelExpr":"split(datum.label,'|')","labelAngle":0,"labelLineHeight":12,"labelPadding":2}}},
   "layer":[
    {"mark":{"type":"bar","stroke":"#000","strokeWidth":1.5},"encoding":{"y":{"field":"v","type":"quantitative","title":"PFU/0.1ml","scale":{"type":"log","domain":[10,1000000]},"axis":{"values":[10,100,1000,10000,100000,1000000],"labelExpr":"'10'+['⁰','¹','²','³','⁴','⁵','⁶','⁷','⁸'][round(log(datum.value)/LN10)]"}},"y2":{"datum":10},"fill":{"field":"t","type":"nominal","scale":{"domain":["c","m"],"range":["#ffffff","#000000"]},"legend":null}}},
    {"mark":{"type":"rule","strokeWidth":1.3,"color":"#000"},"encoding":{"y":{"field":"v","type":"quantitative","title":"PFU/0.1ml","axis":{"values":[10,100,1000,10000,100000,1000000],"labelExpr":"'10'+['⁰','¹','²','³','⁴','⁵','⁶','⁷','⁸'][round(log(datum.value)/LN10)]"}},"y2":{"field":"hi"}}},
    {"mark":{"type":"tick","thickness":1.3,"size":12,"color":"#000"},"encoding":{"y":{"field":"hi","type":"quantitative","title":"PFU/0.1ml","axis":{"values":[10,100,1000,10000,100000,1000000],"labelExpr":"'10'+['⁰','¹','²','³','⁴','⁵','⁶','⁷','⁸'][round(log(datum.value)/LN10)]"}}}},
    {"mark":{"type":"text","dy":-6,"fontWeight":"bold","fontSize":10,"color":"#000"},"encoding":{"y":{"field":"hi","type":"quantitative","title":"PFU/0.1ml","axis":{"values":[10,100,1000,10000,100000,1000000],"labelExpr":"'10'+['⁰','¹','²','³','⁴','⁵','⁶','⁷','⁸'][round(log(datum.value)/LN10)]"}},"text":{"field":"s"}}}
   ]}
 ]}
]},
{"title":{"text":"D","anchor":"start","fontSize":11,"offset":-6},"spacing":15,"resolve":{"scale":{"fill":"independent"}},"hconcat":[
 {"title":{"text":"RAW264.7","anchor":"middle","offset":18},"spacing":12,"resolve":{"scale":{"fill":"independent"}},"hconcat":[
  {"width":134,"height":94,"layer":[
   {"data":{"name":"dbars"},"transform":[{"filter":"datum.p==='D1'"}],"mark":{"type":"bar","stroke":"#000","strokeWidth":1},
    "encoding":{"x":{"field":"g","type":"nominal","title":null,"scale":{"domain":["Ctrl mimics","miR-223 mimics"],"paddingInner":0.75,"paddingOuter":0.38,"align":0.62},"axis":{"labelAngle":0,"labelOffset":{"condition":{"test":"datum.value==='Ctrl mimics'","value":-14},"value":-11},"labelPadding":2}},
     "y":{"field":"v","type":"quantitative","title":"VSV TCID₅₀/0.1ml","scale":{"type":"log","domain":[10,10000000]},"axis":{"values":[10,100,1000,10000,100000,1000000,10000000],"labelExpr":"'10'+['⁰','¹','²','³','⁴','⁵','⁶','⁷','⁸'][round(log(datum.value)/LN10)]"}},
     "y2":{"datum":10},
     "fill":{"field":"sr","type":"nominal","scale":{"domain":["Untreated N.D.","VSV 12h"],"range":["#ffffff","#000000"]},"legend":{"orient":"none","legendX":2,"legendY":-23,"title":null,"symbolType":"square","symbolSize":90,"symbolStrokeColor":"#000","symbolStrokeWidth":1.2,"labelFontSize":11,"labelFontWeight":"bold","labelColor":"#000","rowPadding":1,"padding":0}}}},
   {"data":{"name":"dbars"},"transform":[{"filter":"datum.p==='D1'"}],"mark":{"type":"rule","strokeWidth":1.2,"color":"#000"},"encoding":{"x":{"field":"g","type":"nominal","title":null,"axis":{"labelAngle":0,"labelOffset":{"condition":{"test":"datum.value==='Ctrl mimics'","value":-14},"value":-11},"labelPadding":2}},"y":{"field":"v","type":"quantitative","title":"VSV TCID₅₀/0.1ml","axis":{"values":[10,100,1000,10000,100000,1000000,10000000],"labelExpr":"'10'+['⁰','¹','²','³','⁴','⁵','⁶','⁷','⁸'][round(log(datum.value)/LN10)]"}},"y2":{"field":"hi"}}},
   {"data":{"name":"dbars"},"transform":[{"filter":"datum.p==='D1'"}],"mark":{"type":"tick","thickness":1.2,"size":10,"color":"#000"},"encoding":{"x":{"field":"g","type":"nominal","title":null,"axis":{"labelAngle":0,"labelOffset":{"condition":{"test":"datum.value==='Ctrl mimics'","value":-14},"value":-11},"labelPadding":2}},"y":{"field":"hi","type":"quantitative","title":"VSV TCID₅₀/0.1ml","axis":{"values":[10,100,1000,10000,100000,1000000,10000000],"labelExpr":"'10'+['⁰','¹','²','³','⁴','⁵','⁶','⁷','⁸'][round(log(datum.value)/LN10)]"}}}},
   {"data":{"name":"dbars"},"transform":[{"filter":"datum.p==='D1'"}],"mark":{"type":"rule","strokeWidth":1,"color":"#000"},"encoding":{"x":{"field":"g","type":"nominal","title":null,"axis":{"labelAngle":0,"labelOffset":{"condition":{"test":"datum.value==='Ctrl mimics'","value":-14},"value":-11},"labelPadding":2}},"y":{"field":"hi","type":"quantitative","title":"VSV TCID₅₀/0.1ml","axis":{"values":[10,100,1000,10000,100000,1000000,10000000],"labelExpr":"'10'+['⁰','¹','²','³','⁴','⁵','⁶','⁷','⁸'][round(log(datum.value)/LN10)]"}},"y2":{"field":"br"}}},
   {"data":{"name":"brk"},"transform":[{"filter":"datum.p==='D1'"}],"mark":{"type":"rule","strokeWidth":1,"color":"#000"},"encoding":{"x":{"field":"a","type":"nominal","title":null,"axis":{"labelAngle":0,"labelOffset":{"condition":{"test":"datum.value==='Ctrl mimics'","value":-14},"value":-11},"labelPadding":2}},"x2":{"field":"b"},"y":{"field":"br","type":"quantitative","title":"VSV TCID₅₀/0.1ml","axis":{"values":[10,100,1000,10000,100000,1000000,10000000],"labelExpr":"'10'+['⁰','¹','²','³','⁴','⁵','⁶','⁷','⁸'][round(log(datum.value)/LN10)]"}}}},
   {"data":{"name":"brk"},"transform":[{"filter":"datum.p==='D1'"}],"mark":{"type":"text","dx":33,"dy":-7,"fontWeight":"bold","fontSize":10,"color":"#000"},"encoding":{"x":{"field":"a","type":"nominal","title":null,"axis":{"labelAngle":0,"labelOffset":{"condition":{"test":"datum.value==='Ctrl mimics'","value":-14},"value":-11},"labelPadding":2}},"y":{"field":"br","type":"quantitative","title":"VSV TCID₅₀/0.1ml","axis":{"values":[10,100,1000,10000,100000,1000000,10000000],"labelExpr":"'10'+['⁰','¹','²','³','⁴','⁵','⁶','⁷','⁸'][round(log(datum.value)/LN10)]"}},"text":{"field":"s"}}}
  ]},
  {"width":137,"height":94,"layer":[
   {"data":{"name":"dbars"},"transform":[{"filter":"datum.p==='D2'"}],"mark":{"type":"bar","stroke":"#000","strokeWidth":1},
    "encoding":{"x":{"field":"g","type":"nominal","title":null,"scale":{"domain":["Ctrl inhibitor","miR-223 inhibitor"],"paddingInner":0.75,"paddingOuter":0.38,"align":0.62},"axis":{"labelAngle":0,"labelOffset":{"condition":{"test":"datum.value==='Ctrl inhibitor'","value":-18},"value":-8},"labelPadding":2}},
     "y":{"field":"v","type":"quantitative","title":"VSV TCID₅₀/0.1ml","scale":{"type":"log","domain":[10,10000000]},"axis":{"values":[10,100,1000,10000,100000,1000000,10000000],"labelExpr":"'10'+['⁰','¹','²','³','⁴','⁵','⁶','⁷','⁸'][round(log(datum.value)/LN10)]"}},
     "y2":{"datum":10},
     "fill":{"field":"sr","type":"nominal","scale":{"domain":["Untreated N.D.","VSV 12h"],"range":["#ffffff","#000000"]},"legend":{"orient":"none","legendX":2,"legendY":-23,"title":null,"symbolType":"square","symbolSize":90,"symbolStrokeColor":"#000","symbolStrokeWidth":1.2,"labelFontSize":11,"labelFontWeight":"bold","labelColor":"#000","rowPadding":1,"padding":0}}}},
   {"data":{"name":"dbars"},"transform":[{"filter":"datum.p==='D2'"}],"mark":{"type":"rule","strokeWidth":1.2,"color":"#000"},"encoding":{"x":{"field":"g","type":"nominal","title":null,"axis":{"labelAngle":0,"labelOffset":{"condition":{"test":"datum.value==='Ctrl inhibitor'","value":-18},"value":-8},"labelPadding":2}},"y":{"field":"v","type":"quantitative","title":"VSV TCID₅₀/0.1ml","axis":{"values":[10,100,1000,10000,100000,1000000,10000000],"labelExpr":"'10'+['⁰','¹','²','³','⁴','⁵','⁶','⁷','⁸'][round(log(datum.value)/LN10)]"}},"y2":{"field":"hi"}}},
   {"data":{"name":"dbars"},"transform":[{"filter":"datum.p==='D2'"}],"mark":{"type":"tick","thickness":1.2,"size":10,"color":"#000"},"encoding":{"x":{"field":"g","type":"nominal","title":null,"axis":{"labelAngle":0,"labelOffset":{"condition":{"test":"datum.value==='Ctrl inhibitor'","value":-18},"value":-8},"labelPadding":2}},"y":{"field":"hi","type":"quantitative","title":"VSV TCID₅₀/0.1ml","axis":{"values":[10,100,1000,10000,100000,1000000,10000000],"labelExpr":"'10'+['⁰','¹','²','³','⁴','⁵','⁶','⁷','⁸'][round(log(datum.value)/LN10)]"}}}},
   {"data":{"name":"dbars"},"transform":[{"filter":"datum.p==='D2'"}],"mark":{"type":"rule","strokeWidth":1,"color":"#000"},"encoding":{"x":{"field":"g","type":"nominal","title":null,"axis":{"labelAngle":0,"labelOffset":{"condition":{"test":"datum.value==='Ctrl inhibitor'","value":-18},"value":-8},"labelPadding":2}},"y":{"field":"hi","type":"quantitative","title":"VSV TCID₅₀/0.1ml","axis":{"values":[10,100,1000,10000,100000,1000000,10000000],"labelExpr":"'10'+['⁰','¹','²','³','⁴','⁵','⁶','⁷','⁸'][round(log(datum.value)/LN10)]"}},"y2":{"field":"br"}}},
   {"data":{"name":"brk"},"transform":[{"filter":"datum.p==='D2'"}],"mark":{"type":"rule","strokeWidth":1,"color":"#000"},"encoding":{"x":{"field":"a","type":"nominal","title":null,"axis":{"labelAngle":0,"labelOffset":{"condition":{"test":"datum.value==='Ctrl inhibitor'","value":-18},"value":-8},"labelPadding":2}},"x2":{"field":"b"},"y":{"field":"br","type":"quantitative","title":"VSV TCID₅₀/0.1ml","axis":{"values":[10,100,1000,10000,100000,1000000,10000000],"labelExpr":"'10'+['⁰','¹','²','³','⁴','⁵','⁶','⁷','⁸'][round(log(datum.value)/LN10)]"}}}},
   {"data":{"name":"brk"},"transform":[{"filter":"datum.p==='D2'"}],"mark":{"type":"text","dx":34,"dy":-7,"fontWeight":"bold","fontSize":10,"color":"#000"},"encoding":{"x":{"field":"a","type":"nominal","title":null,"axis":{"labelAngle":0,"labelOffset":{"condition":{"test":"datum.value==='Ctrl inhibitor'","value":-18},"value":-8},"labelPadding":2}},"y":{"field":"br","type":"quantitative","title":"VSV TCID₅₀/0.1ml","axis":{"values":[10,100,1000,10000,100000,1000000,10000000],"labelExpr":"'10'+['⁰','¹','²','³','⁴','⁵','⁶','⁷','⁸'][round(log(datum.value)/LN10)]"}},"text":{"field":"s"}}}
  ]}
 ]},
 {"title":{"text":"Primary macrophages","anchor":"middle","offset":18},"spacing":14,"resolve":{"scale":{"fill":"independent"}},"hconcat":[
  {"width":140,"height":92,"layer":[
   {"data":{"name":"dbars"},"transform":[{"filter":"datum.p==='D3'"}],"mark":{"type":"bar","stroke":"#000","strokeWidth":1},
    "encoding":{"x":{"field":"g","type":"nominal","title":null,"scale":{"domain":["Ctrl mimics","miR-223 mimics"],"paddingInner":0.75,"paddingOuter":0.38,"align":0.62},"axis":{"labelAngle":0,"labelOffset":{"condition":{"test":"datum.value==='Ctrl mimics'","value":-14},"value":-11},"labelPadding":2}},
     "y":{"field":"v","type":"quantitative","title":"VSV TCID₅₀/0.1ml","scale":{"type":"log","domain":[10,100000]},"axis":{"values":[10,100,1000,10000,100000],"labelExpr":"'10'+['⁰','¹','²','³','⁴','⁵','⁶','⁷','⁸'][round(log(datum.value)/LN10)]"}},
     "y2":{"datum":10},
     "fill":{"field":"sr","type":"nominal","scale":{"domain":["Untreated N.D.","VSV 24h"],"range":["#ffffff","#000000"]},"legend":{"orient":"none","legendX":2,"legendY":-23,"title":null,"symbolType":"square","symbolSize":90,"symbolStrokeColor":"#000","symbolStrokeWidth":1.2,"labelFontSize":11,"labelFontWeight":"bold","labelColor":"#000","rowPadding":1,"padding":0}}}},
   {"data":{"name":"dbars"},"transform":[{"filter":"datum.p==='D3'"}],"mark":{"type":"rule","strokeWidth":1.2,"color":"#000"},"encoding":{"x":{"field":"g","type":"nominal","title":null,"axis":{"labelAngle":0,"labelOffset":{"condition":{"test":"datum.value==='Ctrl mimics'","value":-14},"value":-11},"labelPadding":2}},"y":{"field":"v","type":"quantitative","title":"VSV TCID₅₀/0.1ml","axis":{"values":[10,100,1000,10000,100000],"labelExpr":"'10'+['⁰','¹','²','³','⁴','⁵','⁶','⁷','⁸'][round(log(datum.value)/LN10)]"}},"y2":{"field":"hi"}}},
   {"data":{"name":"dbars"},"transform":[{"filter":"datum.p==='D3'"}],"mark":{"type":"tick","thickness":1.2,"size":10,"color":"#000"},"encoding":{"x":{"field":"g","type":"nominal","title":null,"axis":{"labelAngle":0,"labelOffset":{"condition":{"test":"datum.value==='Ctrl mimics'","value":-14},"value":-11},"labelPadding":2}},"y":{"field":"hi","type":"quantitative","title":"VSV TCID₅₀/0.1ml","axis":{"values":[10,100,1000,10000,100000],"labelExpr":"'10'+['⁰','¹','²','³','⁴','⁵','⁶','⁷','⁸'][round(log(datum.value)/LN10)]"}}}},
   {"data":{"name":"dbars"},"transform":[{"filter":"datum.p==='D3'"}],"mark":{"type":"rule","strokeWidth":1,"color":"#000"},"encoding":{"x":{"field":"g","type":"nominal","title":null,"axis":{"labelAngle":0,"labelOffset":{"condition":{"test":"datum.value==='Ctrl mimics'","value":-14},"value":-11},"labelPadding":2}},"y":{"field":"hi","type":"quantitative","title":"VSV TCID₅₀/0.1ml","axis":{"values":[10,100,1000,10000,100000],"labelExpr":"'10'+['⁰','¹','²','³','⁴','⁵','⁶','⁷','⁸'][round(log(datum.value)/LN10)]"}},"y2":{"field":"br"}}},
   {"data":{"name":"brk"},"transform":[{"filter":"datum.p==='D3'"}],"mark":{"type":"rule","strokeWidth":1,"color":"#000"},"encoding":{"x":{"field":"a","type":"nominal","title":null,"axis":{"labelAngle":0,"labelOffset":{"condition":{"test":"datum.value==='Ctrl mimics'","value":-14},"value":-11},"labelPadding":2}},"x2":{"field":"b"},"y":{"field":"br","type":"quantitative","title":"VSV TCID₅₀/0.1ml","axis":{"values":[10,100,1000,10000,100000],"labelExpr":"'10'+['⁰','¹','²','³','⁴','⁵','⁶','⁷','⁸'][round(log(datum.value)/LN10)]"}}}},
   {"data":{"name":"brk"},"transform":[{"filter":"datum.p==='D3'"}],"mark":{"type":"text","dx":35,"dy":-7,"fontWeight":"bold","fontSize":10,"color":"#000"},"encoding":{"x":{"field":"a","type":"nominal","title":null,"axis":{"labelAngle":0,"labelOffset":{"condition":{"test":"datum.value==='Ctrl mimics'","value":-14},"value":-11},"labelPadding":2}},"y":{"field":"br","type":"quantitative","title":"VSV TCID₅₀/0.1ml","axis":{"values":[10,100,1000,10000,100000],"labelExpr":"'10'+['⁰','¹','²','³','⁴','⁵','⁶','⁷','⁸'][round(log(datum.value)/LN10)]"}},"text":{"field":"s"}}}
  ]},
  {"width":145,"height":92,"layer":[
   {"data":{"name":"dbars"},"transform":[{"filter":"datum.p==='D4'"}],"mark":{"type":"bar","stroke":"#000","strokeWidth":1},
    "encoding":{"x":{"field":"g","type":"nominal","title":null,"scale":{"domain":["Ctrl inhibitor","miR-223 inhibitor"],"paddingInner":0.75,"paddingOuter":0.38,"align":0.62},"axis":{"labelAngle":0,"labelOffset":{"condition":{"test":"datum.value==='Ctrl inhibitor'","value":-18},"value":-8},"labelPadding":2}},
     "y":{"field":"v","type":"quantitative","title":"VSV TCID₅₀/0.1ml","scale":{"type":"log","domain":[10,100000]},"axis":{"values":[10,100,1000,10000,100000],"labelExpr":"'10'+['⁰','¹','²','³','⁴','⁵','⁶','⁷','⁸'][round(log(datum.value)/LN10)]"}},
     "y2":{"datum":10},
     "fill":{"field":"sr","type":"nominal","scale":{"domain":["Untreated N.D.","VSV 24h"],"range":["#ffffff","#000000"]},"legend":{"orient":"none","legendX":2,"legendY":-23,"title":null,"symbolType":"square","symbolSize":90,"symbolStrokeColor":"#000","symbolStrokeWidth":1.2,"labelFontSize":11,"labelFontWeight":"bold","labelColor":"#000","rowPadding":1,"padding":0}}}},
   {"data":{"name":"dbars"},"transform":[{"filter":"datum.p==='D4'"}],"mark":{"type":"rule","strokeWidth":1.2,"color":"#000"},"encoding":{"x":{"field":"g","type":"nominal","title":null,"axis":{"labelAngle":0,"labelOffset":{"condition":{"test":"datum.value==='Ctrl inhibitor'","value":-18},"value":-8},"labelPadding":2}},"y":{"field":"v","type":"quantitative","title":"VSV TCID₅₀/0.1ml","axis":{"values":[10,100,1000,10000,100000],"labelExpr":"'10'+['⁰','¹','²','³','⁴','⁵','⁶','⁷','⁸'][round(log(datum.value)/LN10)]"}},"y2":{"field":"hi"}}},
   {"data":{"name":"dbars"},"transform":[{"filter":"datum.p==='D4'"}],"mark":{"type":"tick","thickness":1.2,"size":10,"color":"#000"},"encoding":{"x":{"field":"g","type":"nominal","title":null,"axis":{"labelAngle":0,"labelOffset":{"condition":{"test":"datum.value==='Ctrl inhibitor'","value":-18},"value":-8},"labelPadding":2}},"y":{"field":"hi","type":"quantitative","title":"VSV TCID₅₀/0.1ml","axis":{"values":[10,100,1000,10000,100000],"labelExpr":"'10'+['⁰','¹','²','³','⁴','⁵','⁶','⁷','⁸'][round(log(datum.value)/LN10)]"}}}},
   {"data":{"name":"dbars"},"transform":[{"filter":"datum.p==='D4'"}],"mark":{"type":"rule","strokeWidth":1,"color":"#000"},"encoding":{"x":{"field":"g","type":"nominal","title":null,"axis":{"labelAngle":0,"labelOffset":{"condition":{"test":"datum.value==='Ctrl inhibitor'","value":-18},"value":-8},"labelPadding":2}},"y":{"field":"hi","type":"quantitative","title":"VSV TCID₅₀/0.1ml","axis":{"values":[10,100,1000,10000,100000],"labelExpr":"'10'+['⁰','¹','²','³','⁴','⁵','⁶','⁷','⁸'][round(log(datum.value)/LN10)]"}},"y2":{"field":"br"}}},
   {"data":{"name":"brk"},"transform":[{"filter":"datum.p==='D4'"}],"mark":{"type":"rule","strokeWidth":1,"color":"#000"},"encoding":{"x":{"field":"a","type":"nominal","title":null,"axis":{"labelAngle":0,"labelOffset":{"condition":{"test":"datum.value==='Ctrl inhibitor'","value":-18},"value":-8},"labelPadding":2}},"x2":{"field":"b"},"y":{"field":"br","type":"quantitative","title":"VSV TCID₅₀/0.1ml","axis":{"values":[10,100,1000,10000,100000],"labelExpr":"'10'+['⁰','¹','²','³','⁴','⁵','⁶','⁷','⁸'][round(log(datum.value)/LN10)]"}}}},
   {"data":{"name":"brk"},"transform":[{"filter":"datum.p==='D4'"}],"mark":{"type":"text","dx":36,"dy":-7,"fontWeight":"bold","fontSize":10,"color":"#000"},"encoding":{"x":{"field":"a","type":"nominal","title":null,"axis":{"labelAngle":0,"labelOffset":{"condition":{"test":"datum.value==='Ctrl inhibitor'","value":-18},"value":-8},"labelPadding":2}},"y":{"field":"br","type":"quantitative","title":"VSV TCID₅₀/0.1ml","axis":{"values":[10,100,1000,10000,100000],"labelExpr":"'10'+['⁰','¹','²','³','⁴','⁵','⁶','⁷','⁸'][round(log(datum.value)/LN10)]"}},"text":{"field":"s"}}}
  ]}
 ]}
]}
]},
{"spacing":23,"resolve":{"scale":{"fill":"independent"}},"vconcat":[
{"title":{"text":"E","anchor":"start","fontSize":11,"offset":-6},"spacing":45,"resolve":{"scale":{"fill":"independent"}},"hconcat":[
 {"title":{"text":" ","fontSize":1,"offset":14},"spacing":8,"vconcat":[
  {"spacing":5,"hconcat":[
   {"width":1,"height":112,"title":{"text":" ","fontSize":10.5,"offset":1},"data":{"values":[{"k":1}]},"mark":{"type":"point","shape":"triangle-up","filled":true,"color":"#000","size":45,"opacity":1},"encoding":{"y":{"field":"k","type":"quantitative","scale":{"domain":[0,1]},"title":"Counts","axis":{"ticks":false,"labels":false,"titlePadding":4}}}},
   {"spacing":1,"vconcat":[
    {"spacing":2,"hconcat":[
     {"width":101,"height":101,"view":{"stroke":"#8a8a8a","strokeWidth":1},"title":{"text":"Ctrl","fontSize":10.5,"offset":1},"layer":[
      {"data":{"name":"hist"},"transform":[{"filter":"datum.p==='E1a'"}],"mark":{"type":"area","color":"#fad6d6","opacity":1},"encoding":{"x":{"field":"lg","type":"quantitative","title":null,"scale":{"domain":[2,8]},"axis":{"values":[2,3,4,5,6,7,8],"labelExpr":"'10'+['⁰','¹','²','³','⁴','⁵','⁶','⁷','⁸'][round(datum.value)]","labelFontSize":5.5,"labelFontWeight":"normal","labelColor":"#555","labelFlush":false,"labelOverlap":false,"tickSize":2,"tickColor":"#777","tickWidth":0.6,"domain":false,"labelPadding":1}},"y":{"field":"c","type":"quantitative","scale":{"domain":[0,1]},"axis":null}}},
      {"data":{"name":"hist"},"transform":[{"filter":"datum.p==='E1a'"}],"mark":{"type":"line","color":"#e2333b","strokeWidth":0.9},"encoding":{"x":{"field":"lg","type":"quantitative","title":null,"axis":{"values":[2,3,4,5,6,7,8],"labelExpr":"'10'+['⁰','¹','²','³','⁴','⁵','⁶','⁷','⁸'][round(datum.value)]","labelFontSize":5.5,"labelFontWeight":"normal","labelColor":"#555","labelFlush":false,"labelOverlap":false,"tickSize":2,"tickColor":"#777","tickWidth":0.6,"domain":false,"labelPadding":1}},"y":{"field":"c","type":"quantitative","axis":null}}},
      {"data":{"name":"gates"},"transform":[{"filter":"datum.p==='E1a'"}],"mark":{"type":"rule","color":"#4757cc","strokeWidth":0.9},"encoding":{"x":{"field":"x0","type":"quantitative","title":null,"axis":{"values":[2,3,4,5,6,7,8],"labelExpr":"'10'+['⁰','¹','²','³','⁴','⁵','⁶','⁷','⁸'][round(datum.value)]","labelFontSize":5.5,"labelFontWeight":"normal","labelColor":"#555","labelFlush":false,"labelOverlap":false,"tickSize":2,"tickColor":"#777","tickWidth":0.6,"domain":false,"labelPadding":1}},"x2":{"field":"x1"},"y":{"field":"y","type":"quantitative","axis":null}}},
      {"data":{"name":"gates"},"transform":[{"filter":"datum.p==='E1a'"}],"mark":{"type":"tick","orient":"vertical","color":"#4757cc","size":6,"thickness":0.9},"encoding":{"x":{"field":"x0","type":"quantitative","title":null,"axis":{"values":[2,3,4,5,6,7,8],"labelExpr":"'10'+['⁰','¹','²','³','⁴','⁵','⁶','⁷','⁸'][round(datum.value)]","labelFontSize":5.5,"labelFontWeight":"normal","labelColor":"#555","labelFlush":false,"labelOverlap":false,"tickSize":2,"tickColor":"#777","tickWidth":0.6,"domain":false,"labelPadding":1}},"y":{"field":"y","type":"quantitative","axis":null}}},
      {"data":{"name":"gates"},"transform":[{"filter":"datum.p==='E1a'"}],"mark":{"type":"text","color":"#4757cc","fontSize":5,"dy":-5},"encoding":{"x":{"field":"tx","type":"quantitative","title":null,"axis":{"values":[2,3,4,5,6,7,8],"labelExpr":"'10'+['⁰','¹','²','³','⁴','⁵','⁶','⁷','⁸'][round(datum.value)]","labelFontSize":5.5,"labelFontWeight":"normal","labelColor":"#555","labelFlush":false,"labelOverlap":false,"tickSize":2,"tickColor":"#777","tickWidth":0.6,"domain":false,"labelPadding":1}},"y":{"field":"y","type":"quantitative","axis":null},"text":{"field":"pct"}}}
     ]},
     {"width":101,"height":101,"view":{"stroke":"#8a8a8a","strokeWidth":1},"title":{"text":"Ctrl mimics","fontSize":10.5,"offset":1},"layer":[
      {"data":{"name":"hist"},"transform":[{"filter":"datum.p==='E1b'"}],"mark":{"type":"area","color":"#fad6d6","opacity":1},"encoding":{"x":{"field":"lg","type":"quantitative","title":null,"scale":{"domain":[2,8]},"axis":{"values":[2,3,4,5,6,7,8],"labelExpr":"'10'+['⁰','¹','²','³','⁴','⁵','⁶','⁷','⁸'][round(datum.value)]","labelFontSize":5.5,"labelFontWeight":"normal","labelColor":"#555","labelFlush":false,"labelOverlap":false,"tickSize":2,"tickColor":"#777","tickWidth":0.6,"domain":false,"labelPadding":1}},"y":{"field":"c","type":"quantitative","scale":{"domain":[0,1]},"axis":null}}},
      {"data":{"name":"hist"},"transform":[{"filter":"datum.p==='E1b'"}],"mark":{"type":"line","color":"#e2333b","strokeWidth":0.9},"encoding":{"x":{"field":"lg","type":"quantitative","title":null,"axis":{"values":[2,3,4,5,6,7,8],"labelExpr":"'10'+['⁰','¹','²','³','⁴','⁵','⁶','⁷','⁸'][round(datum.value)]","labelFontSize":5.5,"labelFontWeight":"normal","labelColor":"#555","labelFlush":false,"labelOverlap":false,"tickSize":2,"tickColor":"#777","tickWidth":0.6,"domain":false,"labelPadding":1}},"y":{"field":"c","type":"quantitative","axis":null}}},
      {"data":{"name":"gates"},"transform":[{"filter":"datum.p==='E1b'"}],"mark":{"type":"rule","color":"#4757cc","strokeWidth":0.9},"encoding":{"x":{"field":"x0","type":"quantitative","title":null,"axis":{"values":[2,3,4,5,6,7,8],"labelExpr":"'10'+['⁰','¹','²','³','⁴','⁵','⁶','⁷','⁸'][round(datum.value)]","labelFontSize":5.5,"labelFontWeight":"normal","labelColor":"#555","labelFlush":false,"labelOverlap":false,"tickSize":2,"tickColor":"#777","tickWidth":0.6,"domain":false,"labelPadding":1}},"x2":{"field":"x1"},"y":{"field":"y","type":"quantitative","axis":null}}},
      {"data":{"name":"gates"},"transform":[{"filter":"datum.p==='E1b'"}],"mark":{"type":"tick","orient":"vertical","color":"#4757cc","size":6,"thickness":0.9},"encoding":{"x":{"field":"x0","type":"quantitative","title":null,"axis":{"values":[2,3,4,5,6,7,8],"labelExpr":"'10'+['⁰','¹','²','³','⁴','⁵','⁶','⁷','⁸'][round(datum.value)]","labelFontSize":5.5,"labelFontWeight":"normal","labelColor":"#555","labelFlush":false,"labelOverlap":false,"tickSize":2,"tickColor":"#777","tickWidth":0.6,"domain":false,"labelPadding":1}},"y":{"field":"y","type":"quantitative","axis":null}}},
      {"data":{"name":"gates"},"transform":[{"filter":"datum.p==='E1b'"}],"mark":{"type":"text","color":"#4757cc","fontSize":5,"dy":-5},"encoding":{"x":{"field":"tx","type":"quantitative","title":null,"axis":{"values":[2,3,4,5,6,7,8],"labelExpr":"'10'+['⁰','¹','²','³','⁴','⁵','⁶','⁷','⁸'][round(datum.value)]","labelFontSize":5.5,"labelFontWeight":"normal","labelColor":"#555","labelFlush":false,"labelOverlap":false,"tickSize":2,"tickColor":"#777","tickWidth":0.6,"domain":false,"labelPadding":1}},"y":{"field":"y","type":"quantitative","axis":null},"text":{"field":"pct"}}}
     ]},
     {"width":101,"height":101,"view":{"stroke":"#8a8a8a","strokeWidth":1},"title":{"text":"miR-223 mimics","fontSize":10.5,"offset":1},"layer":[
      {"data":{"name":"hist"},"transform":[{"filter":"datum.p==='E1c'"}],"mark":{"type":"area","color":"#fad6d6","opacity":1},"encoding":{"x":{"field":"lg","type":"quantitative","title":null,"scale":{"domain":[2,8]},"axis":{"values":[2,3,4,5,6,7,8],"labelExpr":"'10'+['⁰','¹','²','³','⁴','⁵','⁶','⁷','⁸'][round(datum.value)]","labelFontSize":5.5,"labelFontWeight":"normal","labelColor":"#555","labelFlush":false,"labelOverlap":false,"tickSize":2,"tickColor":"#777","tickWidth":0.6,"domain":false,"labelPadding":1}},"y":{"field":"c","type":"quantitative","scale":{"domain":[0,1]},"axis":null}}},
      {"data":{"name":"hist"},"transform":[{"filter":"datum.p==='E1c'"}],"mark":{"type":"line","color":"#e2333b","strokeWidth":0.9},"encoding":{"x":{"field":"lg","type":"quantitative","title":null,"axis":{"values":[2,3,4,5,6,7,8],"labelExpr":"'10'+['⁰','¹','²','³','⁴','⁵','⁶','⁷','⁸'][round(datum.value)]","labelFontSize":5.5,"labelFontWeight":"normal","labelColor":"#555","labelFlush":false,"labelOverlap":false,"tickSize":2,"tickColor":"#777","tickWidth":0.6,"domain":false,"labelPadding":1}},"y":{"field":"c","type":"quantitative","axis":null}}},
      {"data":{"name":"gates"},"transform":[{"filter":"datum.p==='E1c'"}],"mark":{"type":"rule","color":"#4757cc","strokeWidth":0.9},"encoding":{"x":{"field":"x0","type":"quantitative","title":null,"axis":{"values":[2,3,4,5,6,7,8],"labelExpr":"'10'+['⁰','¹','²','³','⁴','⁵','⁶','⁷','⁸'][round(datum.value)]","labelFontSize":5.5,"labelFontWeight":"normal","labelColor":"#555","labelFlush":false,"labelOverlap":false,"tickSize":2,"tickColor":"#777","tickWidth":0.6,"domain":false,"labelPadding":1}},"x2":{"field":"x1"},"y":{"field":"y","type":"quantitative","axis":null}}},
      {"data":{"name":"gates"},"transform":[{"filter":"datum.p==='E1c'"}],"mark":{"type":"tick","orient":"vertical","color":"#4757cc","size":6,"thickness":0.9},"encoding":{"x":{"field":"x0","type":"quantitative","title":null,"axis":{"values":[2,3,4,5,6,7,8],"labelExpr":"'10'+['⁰','¹','²','³','⁴','⁵','⁶','⁷','⁸'][round(datum.value)]","labelFontSize":5.5,"labelFontWeight":"normal","labelColor":"#555","labelFlush":false,"labelOverlap":false,"tickSize":2,"tickColor":"#777","tickWidth":0.6,"domain":false,"labelPadding":1}},"y":{"field":"y","type":"quantitative","axis":null}}},
      {"data":{"name":"gates"},"transform":[{"filter":"datum.p==='E1c'"}],"mark":{"type":"text","color":"#4757cc","fontSize":5,"dy":-5},"encoding":{"x":{"field":"tx","type":"quantitative","title":null,"axis":{"values":[2,3,4,5,6,7,8],"labelExpr":"'10'+['⁰','¹','²','³','⁴','⁵','⁶','⁷','⁸'][round(datum.value)]","labelFontSize":5.5,"labelFontWeight":"normal","labelColor":"#555","labelFlush":false,"labelOverlap":false,"tickSize":2,"tickColor":"#777","tickWidth":0.6,"domain":false,"labelPadding":1}},"y":{"field":"y","type":"quantitative","axis":null},"text":{"field":"pct"}}}
     ]}
    ]},
    {"width":334,"height":1,"data":{"values":[{"k":1}]},"mark":{"type":"point","shape":"triangle-right","filled":true,"color":"#000","size":45,"opacity":1},"encoding":{"x":{"field":"k","type":"quantitative","scale":{"domain":[0,1]},"title":"GFP","axis":{"ticks":false,"labels":false,"titlePadding":2}}}}
   ]}
  ]},
  {"spacing":5,"hconcat":[
   {"width":1,"height":112,"title":{"text":" ","fontSize":10.5,"offset":1},"data":{"values":[{"k":1}]},"mark":{"type":"point","shape":"triangle-up","filled":true,"color":"#000","size":45,"opacity":1},"encoding":{"y":{"field":"k","type":"quantitative","scale":{"domain":[0,1]},"title":"Counts","axis":{"ticks":false,"labels":false,"titlePadding":4}}}},
   {"spacing":1,"vconcat":[
    {"spacing":2,"hconcat":[
     {"width":101,"height":101,"view":{"stroke":"#8a8a8a","strokeWidth":1},"title":{"text":"Ctrl","fontSize":10.5,"offset":1},"layer":[
      {"data":{"name":"hist"},"transform":[{"filter":"datum.p==='E2a'"}],"mark":{"type":"area","color":"#fad6d6","opacity":1},"encoding":{"x":{"field":"lg","type":"quantitative","title":null,"scale":{"domain":[2,8]},"axis":{"values":[2,3,4,5,6,7,8],"labelExpr":"'10'+['⁰','¹','²','³','⁴','⁵','⁶','⁷','⁸'][round(datum.value)]","labelFontSize":5.5,"labelFontWeight":"normal","labelColor":"#555","labelFlush":false,"labelOverlap":false,"tickSize":2,"tickColor":"#777","tickWidth":0.6,"domain":false,"labelPadding":1}},"y":{"field":"c","type":"quantitative","scale":{"domain":[0,1]},"axis":null}}},
      {"data":{"name":"hist"},"transform":[{"filter":"datum.p==='E2a'"}],"mark":{"type":"line","color":"#e2333b","strokeWidth":0.9},"encoding":{"x":{"field":"lg","type":"quantitative","title":null,"axis":{"values":[2,3,4,5,6,7,8],"labelExpr":"'10'+['⁰','¹','²','³','⁴','⁵','⁶','⁷','⁸'][round(datum.value)]","labelFontSize":5.5,"labelFontWeight":"normal","labelColor":"#555","labelFlush":false,"labelOverlap":false,"tickSize":2,"tickColor":"#777","tickWidth":0.6,"domain":false,"labelPadding":1}},"y":{"field":"c","type":"quantitative","axis":null}}},
      {"data":{"name":"gates"},"transform":[{"filter":"datum.p==='E2a'"}],"mark":{"type":"rule","color":"#4757cc","strokeWidth":0.9},"encoding":{"x":{"field":"x0","type":"quantitative","title":null,"axis":{"values":[2,3,4,5,6,7,8],"labelExpr":"'10'+['⁰','¹','²','³','⁴','⁵','⁶','⁷','⁸'][round(datum.value)]","labelFontSize":5.5,"labelFontWeight":"normal","labelColor":"#555","labelFlush":false,"labelOverlap":false,"tickSize":2,"tickColor":"#777","tickWidth":0.6,"domain":false,"labelPadding":1}},"x2":{"field":"x1"},"y":{"field":"y","type":"quantitative","axis":null}}},
      {"data":{"name":"gates"},"transform":[{"filter":"datum.p==='E2a'"}],"mark":{"type":"tick","orient":"vertical","color":"#4757cc","size":6,"thickness":0.9},"encoding":{"x":{"field":"x0","type":"quantitative","title":null,"axis":{"values":[2,3,4,5,6,7,8],"labelExpr":"'10'+['⁰','¹','²','³','⁴','⁵','⁶','⁷','⁸'][round(datum.value)]","labelFontSize":5.5,"labelFontWeight":"normal","labelColor":"#555","labelFlush":false,"labelOverlap":false,"tickSize":2,"tickColor":"#777","tickWidth":0.6,"domain":false,"labelPadding":1}},"y":{"field":"y","type":"quantitative","axis":null}}},
      {"data":{"name":"gates"},"transform":[{"filter":"datum.p==='E2a'"}],"mark":{"type":"text","color":"#4757cc","fontSize":5,"dy":-5},"encoding":{"x":{"field":"tx","type":"quantitative","title":null,"axis":{"values":[2,3,4,5,6,7,8],"labelExpr":"'10'+['⁰','¹','²','³','⁴','⁵','⁶','⁷','⁸'][round(datum.value)]","labelFontSize":5.5,"labelFontWeight":"normal","labelColor":"#555","labelFlush":false,"labelOverlap":false,"tickSize":2,"tickColor":"#777","tickWidth":0.6,"domain":false,"labelPadding":1}},"y":{"field":"y","type":"quantitative","axis":null},"text":{"field":"pct"}}}
     ]},
     {"width":101,"height":101,"view":{"stroke":"#8a8a8a","strokeWidth":1},"title":{"text":"Ctrl inhibitor","fontSize":10.5,"offset":1},"layer":[
      {"data":{"name":"hist"},"transform":[{"filter":"datum.p==='E2b'"}],"mark":{"type":"area","color":"#fad6d6","opacity":1},"encoding":{"x":{"field":"lg","type":"quantitative","title":null,"scale":{"domain":[2,8]},"axis":{"values":[2,3,4,5,6,7,8],"labelExpr":"'10'+['⁰','¹','²','³','⁴','⁵','⁶','⁷','⁸'][round(datum.value)]","labelFontSize":5.5,"labelFontWeight":"normal","labelColor":"#555","labelFlush":false,"labelOverlap":false,"tickSize":2,"tickColor":"#777","tickWidth":0.6,"domain":false,"labelPadding":1}},"y":{"field":"c","type":"quantitative","scale":{"domain":[0,1]},"axis":null}}},
      {"data":{"name":"hist"},"transform":[{"filter":"datum.p==='E2b'"}],"mark":{"type":"line","color":"#e2333b","strokeWidth":0.9},"encoding":{"x":{"field":"lg","type":"quantitative","title":null,"axis":{"values":[2,3,4,5,6,7,8],"labelExpr":"'10'+['⁰','¹','²','³','⁴','⁵','⁶','⁷','⁸'][round(datum.value)]","labelFontSize":5.5,"labelFontWeight":"normal","labelColor":"#555","labelFlush":false,"labelOverlap":false,"tickSize":2,"tickColor":"#777","tickWidth":0.6,"domain":false,"labelPadding":1}},"y":{"field":"c","type":"quantitative","axis":null}}},
      {"data":{"name":"gates"},"transform":[{"filter":"datum.p==='E2b'"}],"mark":{"type":"rule","color":"#4757cc","strokeWidth":0.9},"encoding":{"x":{"field":"x0","type":"quantitative","title":null,"axis":{"values":[2,3,4,5,6,7,8],"labelExpr":"'10'+['⁰','¹','²','³','⁴','⁵','⁶','⁷','⁸'][round(datum.value)]","labelFontSize":5.5,"labelFontWeight":"normal","labelColor":"#555","labelFlush":false,"labelOverlap":false,"tickSize":2,"tickColor":"#777","tickWidth":0.6,"domain":false,"labelPadding":1}},"x2":{"field":"x1"},"y":{"field":"y","type":"quantitative","axis":null}}},
      {"data":{"name":"gates"},"transform":[{"filter":"datum.p==='E2b'"}],"mark":{"type":"tick","orient":"vertical","color":"#4757cc","size":6,"thickness":0.9},"encoding":{"x":{"field":"x0","type":"quantitative","title":null,"axis":{"values":[2,3,4,5,6,7,8],"labelExpr":"'10'+['⁰','¹','²','³','⁴','⁵','⁶','⁷','⁸'][round(datum.value)]","labelFontSize":5.5,"labelFontWeight":"normal","labelColor":"#555","labelFlush":false,"labelOverlap":false,"tickSize":2,"tickColor":"#777","tickWidth":0.6,"domain":false,"labelPadding":1}},"y":{"field":"y","type":"quantitative","axis":null}}},
      {"data":{"name":"gates"},"transform":[{"filter":"datum.p==='E2b'"}],"mark":{"type":"text","color":"#4757cc","fontSize":5,"dy":-5},"encoding":{"x":{"field":"tx","type":"quantitative","title":null,"axis":{"values":[2,3,4,5,6,7,8],"labelExpr":"'10'+['⁰','¹','²','³','⁴','⁵','⁶','⁷','⁸'][round(datum.value)]","labelFontSize":5.5,"labelFontWeight":"normal","labelColor":"#555","labelFlush":false,"labelOverlap":false,"tickSize":2,"tickColor":"#777","tickWidth":0.6,"domain":false,"labelPadding":1}},"y":{"field":"y","type":"quantitative","axis":null},"text":{"field":"pct"}}}
     ]},
     {"width":101,"height":101,"view":{"stroke":"#8a8a8a","strokeWidth":1},"title":{"text":"miR-223 inhibitor","fontSize":10.5,"offset":1},"layer":[
      {"data":{"name":"hist"},"transform":[{"filter":"datum.p==='E2c'"}],"mark":{"type":"area","color":"#fad6d6","opacity":1},"encoding":{"x":{"field":"lg","type":"quantitative","title":null,"scale":{"domain":[2,8]},"axis":{"values":[2,3,4,5,6,7,8],"labelExpr":"'10'+['⁰','¹','²','³','⁴','⁵','⁶','⁷','⁸'][round(datum.value)]","labelFontSize":5.5,"labelFontWeight":"normal","labelColor":"#555","labelFlush":false,"labelOverlap":false,"tickSize":2,"tickColor":"#777","tickWidth":0.6,"domain":false,"labelPadding":1}},"y":{"field":"c","type":"quantitative","scale":{"domain":[0,1]},"axis":null}}},
      {"data":{"name":"hist"},"transform":[{"filter":"datum.p==='E2c'"}],"mark":{"type":"line","color":"#e2333b","strokeWidth":0.9},"encoding":{"x":{"field":"lg","type":"quantitative","title":null,"axis":{"values":[2,3,4,5,6,7,8],"labelExpr":"'10'+['⁰','¹','²','³','⁴','⁵','⁶','⁷','⁸'][round(datum.value)]","labelFontSize":5.5,"labelFontWeight":"normal","labelColor":"#555","labelFlush":false,"labelOverlap":false,"tickSize":2,"tickColor":"#777","tickWidth":0.6,"domain":false,"labelPadding":1}},"y":{"field":"c","type":"quantitative","axis":null}}},
      {"data":{"name":"gates"},"transform":[{"filter":"datum.p==='E2c'"}],"mark":{"type":"rule","color":"#4757cc","strokeWidth":0.9},"encoding":{"x":{"field":"x0","type":"quantitative","title":null,"axis":{"values":[2,3,4,5,6,7,8],"labelExpr":"'10'+['⁰','¹','²','³','⁴','⁵','⁶','⁷','⁸'][round(datum.value)]","labelFontSize":5.5,"labelFontWeight":"normal","labelColor":"#555","labelFlush":false,"labelOverlap":false,"tickSize":2,"tickColor":"#777","tickWidth":0.6,"domain":false,"labelPadding":1}},"x2":{"field":"x1"},"y":{"field":"y","type":"quantitative","axis":null}}},
      {"data":{"name":"gates"},"transform":[{"filter":"datum.p==='E2c'"}],"mark":{"type":"tick","orient":"vertical","color":"#4757cc","size":6,"thickness":0.9},"encoding":{"x":{"field":"x0","type":"quantitative","title":null,"axis":{"values":[2,3,4,5,6,7,8],"labelExpr":"'10'+['⁰','¹','²','³','⁴','⁵','⁶','⁷','⁸'][round(datum.value)]","labelFontSize":5.5,"labelFontWeight":"normal","labelColor":"#555","labelFlush":false,"labelOverlap":false,"tickSize":2,"tickColor":"#777","tickWidth":0.6,"domain":false,"labelPadding":1}},"y":{"field":"y","type":"quantitative","axis":null}}},
      {"data":{"name":"gates"},"transform":[{"filter":"datum.p==='E2c'"}],"mark":{"type":"text","color":"#4757cc","fontSize":5,"dy":-5},"encoding":{"x":{"field":"tx","type":"quantitative","title":null,"axis":{"values":[2,3,4,5,6,7,8],"labelExpr":"'10'+['⁰','¹','²','³','⁴','⁵','⁶','⁷','⁸'][round(datum.value)]","labelFontSize":5.5,"labelFontWeight":"normal","labelColor":"#555","labelFlush":false,"labelOverlap":false,"tickSize":2,"tickColor":"#777","tickWidth":0.6,"domain":false,"labelPadding":1}},"y":{"field":"y","type":"quantitative","axis":null},"text":{"field":"pct"}}}
     ]}
    ]},
    {"width":334,"height":1,"data":{"values":[{"k":1}]},"mark":{"type":"point","shape":"triangle-right","filled":true,"color":"#000","size":45,"opacity":1},"encoding":{"x":{"field":"k","type":"quantitative","scale":{"domain":[0,1]},"title":"GFP","axis":{"ticks":false,"labels":false,"titlePadding":2}}}}
   ]}
  ]}
 ]},
 {"title":{"text":"RAW264.7","anchor":"middle"},"spacing":14,"vconcat":[
  {"width":105,"height":99,"data":{"name":"bars"},"transform":[{"filter":"datum.p==='E1'"}],
   "encoding":{"x":{"field":"g","type":"nominal","sort":null,"title":null,"scale":{"paddingInner":0.48,"paddingOuter":0.28},"axis":{"labelExpr":"split(datum.label,'|')","labelAngle":0,"labelLineHeight":12,"labelPadding":2}}},
   "layer":[
    {"mark":{"type":"bar","stroke":"#000","strokeWidth":1.5},"encoding":{"y":{"field":"v","type":"quantitative","title":"GFP+ cells (%)","scale":{"domain":[0,60]},"axis":{"values":[0,20,40,60]}},"fill":{"field":"t","type":"nominal","scale":{"domain":["c","m"],"range":["#ffffff","#000000"]},"legend":null}}},
    {"mark":{"type":"rule","strokeWidth":1.3,"color":"#000"},"encoding":{"y":{"field":"v","type":"quantitative","title":"GFP+ cells (%)","axis":{"values":[0,20,40,60]}},"y2":{"field":"hi"}}},
    {"mark":{"type":"tick","thickness":1.3,"size":12,"color":"#000"},"encoding":{"y":{"field":"hi","type":"quantitative","title":"GFP+ cells (%)","axis":{"values":[0,20,40,60]}}}},
    {"mark":{"type":"text","dy":-6,"fontWeight":"bold","fontSize":10,"color":"#000"},"encoding":{"y":{"field":"hi","type":"quantitative","title":"GFP+ cells (%)","axis":{"values":[0,20,40,60]}},"text":{"field":"s"}}}
   ]},
  {"width":105,"height":99,"data":{"name":"bars"},"transform":[{"filter":"datum.p==='E2'"}],
   "encoding":{"x":{"field":"g","type":"nominal","sort":null,"title":null,"scale":{"paddingInner":0.48,"paddingOuter":0.28},"axis":{"labelExpr":"split(datum.label,'|')","labelAngle":0,"labelLineHeight":12,"labelPadding":2}}},
   "layer":[
    {"mark":{"type":"bar","stroke":"#000","strokeWidth":1.5},"encoding":{"y":{"field":"v","type":"quantitative","title":"GFP+ cells (%)","scale":{"domain":[0,80]},"axis":{"values":[0,20,40,60,80]}},"fill":{"field":"t","type":"nominal","scale":{"domain":["c","m"],"range":["#ffffff","#000000"]},"legend":null}}},
    {"mark":{"type":"rule","strokeWidth":1.3,"color":"#000"},"encoding":{"y":{"field":"v","type":"quantitative","title":"GFP+ cells (%)","axis":{"values":[0,20,40,60,80]}},"y2":{"field":"hi"}}},
    {"mark":{"type":"tick","thickness":1.3,"size":12,"color":"#000"},"encoding":{"y":{"field":"hi","type":"quantitative","title":"GFP+ cells (%)","axis":{"values":[0,20,40,60,80]}}}},
    {"mark":{"type":"text","dy":-6,"fontWeight":"bold","fontSize":10,"color":"#000"},"encoding":{"y":{"field":"hi","type":"quantitative","title":"GFP+ cells (%)","axis":{"values":[0,20,40,60,80]}},"text":{"field":"s"}}}
   ]}
 ]}
]},
{"title":{"text":"F","anchor":"start","fontSize":11,"offset":-6},"spacing":45,"resolve":{"scale":{"fill":"independent"}},"hconcat":[
 {"title":{"text":" ","fontSize":1,"offset":18},"spacing":12,"vconcat":[
  {"spacing":5,"hconcat":[
   {"width":1,"height":112,"title":{"text":" ","fontSize":10.5,"offset":1},"data":{"values":[{"k":1}]},"mark":{"type":"point","shape":"triangle-up","filled":true,"color":"#000","size":45,"opacity":1},"encoding":{"y":{"field":"k","type":"quantitative","scale":{"domain":[0,1]},"title":"Counts","axis":{"ticks":false,"labels":false,"titlePadding":4}}}},
   {"spacing":1,"vconcat":[
    {"spacing":2,"hconcat":[
     {"width":101,"height":101,"view":{"stroke":"#8a8a8a","strokeWidth":1},"title":{"text":"Ctrl","fontSize":10.5,"offset":1},"layer":[
      {"data":{"name":"hist"},"transform":[{"filter":"datum.p==='F1a'"}],"mark":{"type":"area","color":"#fad6d6","opacity":1},"encoding":{"x":{"field":"lg","type":"quantitative","title":null,"scale":{"domain":[2,8]},"axis":{"values":[2,3,4,5,6,7,8],"labelExpr":"'10'+['⁰','¹','²','³','⁴','⁵','⁶','⁷','⁸'][round(datum.value)]","labelFontSize":5.5,"labelFontWeight":"normal","labelColor":"#555","labelFlush":false,"labelOverlap":false,"tickSize":2,"tickColor":"#777","tickWidth":0.6,"domain":false,"labelPadding":1}},"y":{"field":"c","type":"quantitative","scale":{"domain":[0,1]},"axis":null}}},
      {"data":{"name":"hist"},"transform":[{"filter":"datum.p==='F1a'"}],"mark":{"type":"line","color":"#e2333b","strokeWidth":0.9},"encoding":{"x":{"field":"lg","type":"quantitative","title":null,"axis":{"values":[2,3,4,5,6,7,8],"labelExpr":"'10'+['⁰','¹','²','³','⁴','⁵','⁶','⁷','⁸'][round(datum.value)]","labelFontSize":5.5,"labelFontWeight":"normal","labelColor":"#555","labelFlush":false,"labelOverlap":false,"tickSize":2,"tickColor":"#777","tickWidth":0.6,"domain":false,"labelPadding":1}},"y":{"field":"c","type":"quantitative","axis":null}}},
      {"data":{"name":"gates"},"transform":[{"filter":"datum.p==='F1a'"}],"mark":{"type":"rule","color":"#4757cc","strokeWidth":0.9},"encoding":{"x":{"field":"x0","type":"quantitative","title":null,"axis":{"values":[2,3,4,5,6,7,8],"labelExpr":"'10'+['⁰','¹','²','³','⁴','⁵','⁶','⁷','⁸'][round(datum.value)]","labelFontSize":5.5,"labelFontWeight":"normal","labelColor":"#555","labelFlush":false,"labelOverlap":false,"tickSize":2,"tickColor":"#777","tickWidth":0.6,"domain":false,"labelPadding":1}},"x2":{"field":"x1"},"y":{"field":"y","type":"quantitative","axis":null}}},
      {"data":{"name":"gates"},"transform":[{"filter":"datum.p==='F1a'"}],"mark":{"type":"tick","orient":"vertical","color":"#4757cc","size":6,"thickness":0.9},"encoding":{"x":{"field":"x0","type":"quantitative","title":null,"axis":{"values":[2,3,4,5,6,7,8],"labelExpr":"'10'+['⁰','¹','²','³','⁴','⁵','⁶','⁷','⁸'][round(datum.value)]","labelFontSize":5.5,"labelFontWeight":"normal","labelColor":"#555","labelFlush":false,"labelOverlap":false,"tickSize":2,"tickColor":"#777","tickWidth":0.6,"domain":false,"labelPadding":1}},"y":{"field":"y","type":"quantitative","axis":null}}},
      {"data":{"name":"gates"},"transform":[{"filter":"datum.p==='F1a'"}],"mark":{"type":"text","color":"#4757cc","fontSize":5,"dy":-5},"encoding":{"x":{"field":"tx","type":"quantitative","title":null,"axis":{"values":[2,3,4,5,6,7,8],"labelExpr":"'10'+['⁰','¹','²','³','⁴','⁵','⁶','⁷','⁸'][round(datum.value)]","labelFontSize":5.5,"labelFontWeight":"normal","labelColor":"#555","labelFlush":false,"labelOverlap":false,"tickSize":2,"tickColor":"#777","tickWidth":0.6,"domain":false,"labelPadding":1}},"y":{"field":"y","type":"quantitative","axis":null},"text":{"field":"pct"}}}
     ]},
     {"width":101,"height":101,"view":{"stroke":"#8a8a8a","strokeWidth":1},"title":{"text":"Ctrl mimics","fontSize":10.5,"offset":1},"layer":[
      {"data":{"name":"hist"},"transform":[{"filter":"datum.p==='F1b'"}],"mark":{"type":"area","color":"#fad6d6","opacity":1},"encoding":{"x":{"field":"lg","type":"quantitative","title":null,"scale":{"domain":[2,8]},"axis":{"values":[2,3,4,5,6,7,8],"labelExpr":"'10'+['⁰','¹','²','³','⁴','⁵','⁶','⁷','⁸'][round(datum.value)]","labelFontSize":5.5,"labelFontWeight":"normal","labelColor":"#555","labelFlush":false,"labelOverlap":false,"tickSize":2,"tickColor":"#777","tickWidth":0.6,"domain":false,"labelPadding":1}},"y":{"field":"c","type":"quantitative","scale":{"domain":[0,1]},"axis":null}}},
      {"data":{"name":"hist"},"transform":[{"filter":"datum.p==='F1b'"}],"mark":{"type":"line","color":"#e2333b","strokeWidth":0.9},"encoding":{"x":{"field":"lg","type":"quantitative","title":null,"axis":{"values":[2,3,4,5,6,7,8],"labelExpr":"'10'+['⁰','¹','²','³','⁴','⁵','⁶','⁷','⁸'][round(datum.value)]","labelFontSize":5.5,"labelFontWeight":"normal","labelColor":"#555","labelFlush":false,"labelOverlap":false,"tickSize":2,"tickColor":"#777","tickWidth":0.6,"domain":false,"labelPadding":1}},"y":{"field":"c","type":"quantitative","axis":null}}},
      {"data":{"name":"gates"},"transform":[{"filter":"datum.p==='F1b'"}],"mark":{"type":"rule","color":"#4757cc","strokeWidth":0.9},"encoding":{"x":{"field":"x0","type":"quantitative","title":null,"axis":{"values":[2,3,4,5,6,7,8],"labelExpr":"'10'+['⁰','¹','²','³','⁴','⁵','⁶','⁷','⁸'][round(datum.value)]","labelFontSize":5.5,"labelFontWeight":"normal","labelColor":"#555","labelFlush":false,"labelOverlap":false,"tickSize":2,"tickColor":"#777","tickWidth":0.6,"domain":false,"labelPadding":1}},"x2":{"field":"x1"},"y":{"field":"y","type":"quantitative","axis":null}}},
      {"data":{"name":"gates"},"transform":[{"filter":"datum.p==='F1b'"}],"mark":{"type":"tick","orient":"vertical","color":"#4757cc","size":6,"thickness":0.9},"encoding":{"x":{"field":"x0","type":"quantitative","title":null,"axis":{"values":[2,3,4,5,6,7,8],"labelExpr":"'10'+['⁰','¹','²','³','⁴','⁵','⁶','⁷','⁸'][round(datum.value)]","labelFontSize":5.5,"labelFontWeight":"normal","labelColor":"#555","labelFlush":false,"labelOverlap":false,"tickSize":2,"tickColor":"#777","tickWidth":0.6,"domain":false,"labelPadding":1}},"y":{"field":"y","type":"quantitative","axis":null}}},
      {"data":{"name":"gates"},"transform":[{"filter":"datum.p==='F1b'"}],"mark":{"type":"text","color":"#4757cc","fontSize":5,"dy":-5},"encoding":{"x":{"field":"tx","type":"quantitative","title":null,"axis":{"values":[2,3,4,5,6,7,8],"labelExpr":"'10'+['⁰','¹','²','³','⁴','⁵','⁶','⁷','⁸'][round(datum.value)]","labelFontSize":5.5,"labelFontWeight":"normal","labelColor":"#555","labelFlush":false,"labelOverlap":false,"tickSize":2,"tickColor":"#777","tickWidth":0.6,"domain":false,"labelPadding":1}},"y":{"field":"y","type":"quantitative","axis":null},"text":{"field":"pct"}}}
     ]},
     {"width":101,"height":101,"view":{"stroke":"#8a8a8a","strokeWidth":1},"title":{"text":"miR-223 mimics","fontSize":10.5,"offset":1},"layer":[
      {"data":{"name":"hist"},"transform":[{"filter":"datum.p==='F1c'"}],"mark":{"type":"area","color":"#fad6d6","opacity":1},"encoding":{"x":{"field":"lg","type":"quantitative","title":null,"scale":{"domain":[2,8]},"axis":{"values":[2,3,4,5,6,7,8],"labelExpr":"'10'+['⁰','¹','²','³','⁴','⁵','⁶','⁷','⁸'][round(datum.value)]","labelFontSize":5.5,"labelFontWeight":"normal","labelColor":"#555","labelFlush":false,"labelOverlap":false,"tickSize":2,"tickColor":"#777","tickWidth":0.6,"domain":false,"labelPadding":1}},"y":{"field":"c","type":"quantitative","scale":{"domain":[0,1]},"axis":null}}},
      {"data":{"name":"hist"},"transform":[{"filter":"datum.p==='F1c'"}],"mark":{"type":"line","color":"#e2333b","strokeWidth":0.9},"encoding":{"x":{"field":"lg","type":"quantitative","title":null,"axis":{"values":[2,3,4,5,6,7,8],"labelExpr":"'10'+['⁰','¹','²','³','⁴','⁵','⁶','⁷','⁸'][round(datum.value)]","labelFontSize":5.5,"labelFontWeight":"normal","labelColor":"#555","labelFlush":false,"labelOverlap":false,"tickSize":2,"tickColor":"#777","tickWidth":0.6,"domain":false,"labelPadding":1}},"y":{"field":"c","type":"quantitative","axis":null}}},
      {"data":{"name":"gates"},"transform":[{"filter":"datum.p==='F1c'"}],"mark":{"type":"rule","color":"#4757cc","strokeWidth":0.9},"encoding":{"x":{"field":"x0","type":"quantitative","title":null,"axis":{"values":[2,3,4,5,6,7,8],"labelExpr":"'10'+['⁰','¹','²','³','⁴','⁵','⁶','⁷','⁸'][round(datum.value)]","labelFontSize":5.5,"labelFontWeight":"normal","labelColor":"#555","labelFlush":false,"labelOverlap":false,"tickSize":2,"tickColor":"#777","tickWidth":0.6,"domain":false,"labelPadding":1}},"x2":{"field":"x1"},"y":{"field":"y","type":"quantitative","axis":null}}},
      {"data":{"name":"gates"},"transform":[{"filter":"datum.p==='F1c'"}],"mark":{"type":"tick","orient":"vertical","color":"#4757cc","size":6,"thickness":0.9},"encoding":{"x":{"field":"x0","type":"quantitative","title":null,"axis":{"values":[2,3,4,5,6,7,8],"labelExpr":"'10'+['⁰','¹','²','³','⁴','⁵','⁶','⁷','⁸'][round(datum.value)]","labelFontSize":5.5,"labelFontWeight":"normal","labelColor":"#555","labelFlush":false,"labelOverlap":false,"tickSize":2,"tickColor":"#777","tickWidth":0.6,"domain":false,"labelPadding":1}},"y":{"field":"y","type":"quantitative","axis":null}}},
      {"data":{"name":"gates"},"transform":[{"filter":"datum.p==='F1c'"}],"mark":{"type":"text","color":"#4757cc","fontSize":5,"dy":-5},"encoding":{"x":{"field":"tx","type":"quantitative","title":null,"axis":{"values":[2,3,4,5,6,7,8],"labelExpr":"'10'+['⁰','¹','²','³','⁴','⁵','⁶','⁷','⁸'][round(datum.value)]","labelFontSize":5.5,"labelFontWeight":"normal","labelColor":"#555","labelFlush":false,"labelOverlap":false,"tickSize":2,"tickColor":"#777","tickWidth":0.6,"domain":false,"labelPadding":1}},"y":{"field":"y","type":"quantitative","axis":null},"text":{"field":"pct"}}}
     ]}
    ]},
    {"width":334,"height":1,"data":{"values":[{"k":1}]},"mark":{"type":"point","shape":"triangle-right","filled":true,"color":"#000","size":45,"opacity":1},"encoding":{"x":{"field":"k","type":"quantitative","scale":{"domain":[0,1]},"title":"GFP","axis":{"ticks":false,"labels":false,"titlePadding":2}}}}
   ]}
  ]},
  {"spacing":5,"hconcat":[
   {"width":1,"height":112,"title":{"text":" ","fontSize":10.5,"offset":1},"data":{"values":[{"k":1}]},"mark":{"type":"point","shape":"triangle-up","filled":true,"color":"#000","size":45,"opacity":1},"encoding":{"y":{"field":"k","type":"quantitative","scale":{"domain":[0,1]},"title":"Counts","axis":{"ticks":false,"labels":false,"titlePadding":4}}}},
   {"spacing":1,"vconcat":[
    {"spacing":2,"hconcat":[
     {"width":101,"height":101,"view":{"stroke":"#8a8a8a","strokeWidth":1},"title":{"text":"Ctrl","fontSize":10.5,"offset":1},"layer":[
      {"data":{"name":"hist"},"transform":[{"filter":"datum.p==='F2a'"}],"mark":{"type":"area","color":"#fad6d6","opacity":1},"encoding":{"x":{"field":"lg","type":"quantitative","title":null,"scale":{"domain":[2,8]},"axis":{"values":[2,3,4,5,6,7,8],"labelExpr":"'10'+['⁰','¹','²','³','⁴','⁵','⁶','⁷','⁸'][round(datum.value)]","labelFontSize":5.5,"labelFontWeight":"normal","labelColor":"#555","labelFlush":false,"labelOverlap":false,"tickSize":2,"tickColor":"#777","tickWidth":0.6,"domain":false,"labelPadding":1}},"y":{"field":"c","type":"quantitative","scale":{"domain":[0,1]},"axis":null}}},
      {"data":{"name":"hist"},"transform":[{"filter":"datum.p==='F2a'"}],"mark":{"type":"line","color":"#e2333b","strokeWidth":0.9},"encoding":{"x":{"field":"lg","type":"quantitative","title":null,"axis":{"values":[2,3,4,5,6,7,8],"labelExpr":"'10'+['⁰','¹','²','³','⁴','⁵','⁶','⁷','⁸'][round(datum.value)]","labelFontSize":5.5,"labelFontWeight":"normal","labelColor":"#555","labelFlush":false,"labelOverlap":false,"tickSize":2,"tickColor":"#777","tickWidth":0.6,"domain":false,"labelPadding":1}},"y":{"field":"c","type":"quantitative","axis":null}}},
      {"data":{"name":"gates"},"transform":[{"filter":"datum.p==='F2a'"}],"mark":{"type":"rule","color":"#4757cc","strokeWidth":0.9},"encoding":{"x":{"field":"x0","type":"quantitative","title":null,"axis":{"values":[2,3,4,5,6,7,8],"labelExpr":"'10'+['⁰','¹','²','³','⁴','⁵','⁶','⁷','⁸'][round(datum.value)]","labelFontSize":5.5,"labelFontWeight":"normal","labelColor":"#555","labelFlush":false,"labelOverlap":false,"tickSize":2,"tickColor":"#777","tickWidth":0.6,"domain":false,"labelPadding":1}},"x2":{"field":"x1"},"y":{"field":"y","type":"quantitative","axis":null}}},
      {"data":{"name":"gates"},"transform":[{"filter":"datum.p==='F2a'"}],"mark":{"type":"tick","orient":"vertical","color":"#4757cc","size":6,"thickness":0.9},"encoding":{"x":{"field":"x0","type":"quantitative","title":null,"axis":{"values":[2,3,4,5,6,7,8],"labelExpr":"'10'+['⁰','¹','²','³','⁴','⁵','⁶','⁷','⁸'][round(datum.value)]","labelFontSize":5.5,"labelFontWeight":"normal","labelColor":"#555","labelFlush":false,"labelOverlap":false,"tickSize":2,"tickColor":"#777","tickWidth":0.6,"domain":false,"labelPadding":1}},"y":{"field":"y","type":"quantitative","axis":null}}},
      {"data":{"name":"gates"},"transform":[{"filter":"datum.p==='F2a'"}],"mark":{"type":"text","color":"#4757cc","fontSize":5,"dy":-5},"encoding":{"x":{"field":"tx","type":"quantitative","title":null,"axis":{"values":[2,3,4,5,6,7,8],"labelExpr":"'10'+['⁰','¹','²','³','⁴','⁵','⁶','⁷','⁸'][round(datum.value)]","labelFontSize":5.5,"labelFontWeight":"normal","labelColor":"#555","labelFlush":false,"labelOverlap":false,"tickSize":2,"tickColor":"#777","tickWidth":0.6,"domain":false,"labelPadding":1}},"y":{"field":"y","type":"quantitative","axis":null},"text":{"field":"pct"}}}
     ]},
     {"width":101,"height":101,"view":{"stroke":"#8a8a8a","strokeWidth":1},"title":{"text":"Ctrl inhibitor","fontSize":10.5,"offset":1},"layer":[
      {"data":{"name":"hist"},"transform":[{"filter":"datum.p==='F2b'"}],"mark":{"type":"area","color":"#fad6d6","opacity":1},"encoding":{"x":{"field":"lg","type":"quantitative","title":null,"scale":{"domain":[2,8]},"axis":{"values":[2,3,4,5,6,7,8],"labelExpr":"'10'+['⁰','¹','²','³','⁴','⁵','⁶','⁷','⁸'][round(datum.value)]","labelFontSize":5.5,"labelFontWeight":"normal","labelColor":"#555","labelFlush":false,"labelOverlap":false,"tickSize":2,"tickColor":"#777","tickWidth":0.6,"domain":false,"labelPadding":1}},"y":{"field":"c","type":"quantitative","scale":{"domain":[0,1]},"axis":null}}},
      {"data":{"name":"hist"},"transform":[{"filter":"datum.p==='F2b'"}],"mark":{"type":"line","color":"#e2333b","strokeWidth":0.9},"encoding":{"x":{"field":"lg","type":"quantitative","title":null,"axis":{"values":[2,3,4,5,6,7,8],"labelExpr":"'10'+['⁰','¹','²','³','⁴','⁵','⁶','⁷','⁸'][round(datum.value)]","labelFontSize":5.5,"labelFontWeight":"normal","labelColor":"#555","labelFlush":false,"labelOverlap":false,"tickSize":2,"tickColor":"#777","tickWidth":0.6,"domain":false,"labelPadding":1}},"y":{"field":"c","type":"quantitative","axis":null}}},
      {"data":{"name":"gates"},"transform":[{"filter":"datum.p==='F2b'"}],"mark":{"type":"rule","color":"#4757cc","strokeWidth":0.9},"encoding":{"x":{"field":"x0","type":"quantitative","title":null,"axis":{"values":[2,3,4,5,6,7,8],"labelExpr":"'10'+['⁰','¹','²','³','⁴','⁵','⁶','⁷','⁸'][round(datum.value)]","labelFontSize":5.5,"labelFontWeight":"normal","labelColor":"#555","labelFlush":false,"labelOverlap":false,"tickSize":2,"tickColor":"#777","tickWidth":0.6,"domain":false,"labelPadding":1}},"x2":{"field":"x1"},"y":{"field":"y","type":"quantitative","axis":null}}},
      {"data":{"name":"gates"},"transform":[{"filter":"datum.p==='F2b'"}],"mark":{"type":"tick","orient":"vertical","color":"#4757cc","size":6,"thickness":0.9},"encoding":{"x":{"field":"x0","type":"quantitative","title":null,"axis":{"values":[2,3,4,5,6,7,8],"labelExpr":"'10'+['⁰','¹','²','³','⁴','⁵','⁶','⁷','⁸'][round(datum.value)]","labelFontSize":5.5,"labelFontWeight":"normal","labelColor":"#555","labelFlush":false,"labelOverlap":false,"tickSize":2,"tickColor":"#777","tickWidth":0.6,"domain":false,"labelPadding":1}},"y":{"field":"y","type":"quantitative","axis":null}}},
      {"data":{"name":"gates"},"transform":[{"filter":"datum.p==='F2b'"}],"mark":{"type":"text","color":"#4757cc","fontSize":5,"dy":-5},"encoding":{"x":{"field":"tx","type":"quantitative","title":null,"axis":{"values":[2,3,4,5,6,7,8],"labelExpr":"'10'+['⁰','¹','²','³','⁴','⁵','⁶','⁷','⁸'][round(datum.value)]","labelFontSize":5.5,"labelFontWeight":"normal","labelColor":"#555","labelFlush":false,"labelOverlap":false,"tickSize":2,"tickColor":"#777","tickWidth":0.6,"domain":false,"labelPadding":1}},"y":{"field":"y","type":"quantitative","axis":null},"text":{"field":"pct"}}}
     ]},
     {"width":101,"height":101,"view":{"stroke":"#8a8a8a","strokeWidth":1},"title":{"text":"miR-223 inhibitor","fontSize":10.5,"offset":1},"layer":[
      {"data":{"name":"hist"},"transform":[{"filter":"datum.p==='F2c'"}],"mark":{"type":"area","color":"#fad6d6","opacity":1},"encoding":{"x":{"field":"lg","type":"quantitative","title":null,"scale":{"domain":[2,8]},"axis":{"values":[2,3,4,5,6,7,8],"labelExpr":"'10'+['⁰','¹','²','³','⁴','⁵','⁶','⁷','⁸'][round(datum.value)]","labelFontSize":5.5,"labelFontWeight":"normal","labelColor":"#555","labelFlush":false,"labelOverlap":false,"tickSize":2,"tickColor":"#777","tickWidth":0.6,"domain":false,"labelPadding":1}},"y":{"field":"c","type":"quantitative","scale":{"domain":[0,1]},"axis":null}}},
      {"data":{"name":"hist"},"transform":[{"filter":"datum.p==='F2c'"}],"mark":{"type":"line","color":"#e2333b","strokeWidth":0.9},"encoding":{"x":{"field":"lg","type":"quantitative","title":null,"axis":{"values":[2,3,4,5,6,7,8],"labelExpr":"'10'+['⁰','¹','²','³','⁴','⁵','⁶','⁷','⁸'][round(datum.value)]","labelFontSize":5.5,"labelFontWeight":"normal","labelColor":"#555","labelFlush":false,"labelOverlap":false,"tickSize":2,"tickColor":"#777","tickWidth":0.6,"domain":false,"labelPadding":1}},"y":{"field":"c","type":"quantitative","axis":null}}},
      {"data":{"name":"gates"},"transform":[{"filter":"datum.p==='F2c'"}],"mark":{"type":"rule","color":"#4757cc","strokeWidth":0.9},"encoding":{"x":{"field":"x0","type":"quantitative","title":null,"axis":{"values":[2,3,4,5,6,7,8],"labelExpr":"'10'+['⁰','¹','²','³','⁴','⁵','⁶','⁷','⁸'][round(datum.value)]","labelFontSize":5.5,"labelFontWeight":"normal","labelColor":"#555","labelFlush":false,"labelOverlap":false,"tickSize":2,"tickColor":"#777","tickWidth":0.6,"domain":false,"labelPadding":1}},"x2":{"field":"x1"},"y":{"field":"y","type":"quantitative","axis":null}}},
      {"data":{"name":"gates"},"transform":[{"filter":"datum.p==='F2c'"}],"mark":{"type":"tick","orient":"vertical","color":"#4757cc","size":6,"thickness":0.9},"encoding":{"x":{"field":"x0","type":"quantitative","title":null,"axis":{"values":[2,3,4,5,6,7,8],"labelExpr":"'10'+['⁰','¹','²','³','⁴','⁵','⁶','⁷','⁸'][round(datum.value)]","labelFontSize":5.5,"labelFontWeight":"normal","labelColor":"#555","labelFlush":false,"labelOverlap":false,"tickSize":2,"tickColor":"#777","tickWidth":0.6,"domain":false,"labelPadding":1}},"y":{"field":"y","type":"quantitative","axis":null}}},
      {"data":{"name":"gates"},"transform":[{"filter":"datum.p==='F2c'"}],"mark":{"type":"text","color":"#4757cc","fontSize":5,"dy":-5},"encoding":{"x":{"field":"tx","type":"quantitative","title":null,"axis":{"values":[2,3,4,5,6,7,8],"labelExpr":"'10'+['⁰','¹','²','³','⁴','⁵','⁶','⁷','⁸'][round(datum.value)]","labelFontSize":5.5,"labelFontWeight":"normal","labelColor":"#555","labelFlush":false,"labelOverlap":false,"tickSize":2,"tickColor":"#777","tickWidth":0.6,"domain":false,"labelPadding":1}},"y":{"field":"y","type":"quantitative","axis":null},"text":{"field":"pct"}}}
     ]}
    ]},
    {"width":334,"height":1,"data":{"values":[{"k":1}]},"mark":{"type":"point","shape":"triangle-right","filled":true,"color":"#000","size":45,"opacity":1},"encoding":{"x":{"field":"k","type":"quantitative","scale":{"domain":[0,1]},"title":"GFP","axis":{"ticks":false,"labels":false,"titlePadding":2}}}}
   ]}
  ]}
 ]},
 {"title":{"text":"Primary macrophages","anchor":"middle","offset":0},"spacing":17,"vconcat":[
  {"width":108,"height":100,"data":{"name":"bars"},"transform":[{"filter":"datum.p==='F1'"}],
   "encoding":{"x":{"field":"g","type":"nominal","sort":null,"title":null,"scale":{"paddingInner":0.48,"paddingOuter":0.28},"axis":{"labelExpr":"split(datum.label,'|')","labelAngle":0,"labelLineHeight":12,"labelPadding":2}}},
   "layer":[
    {"mark":{"type":"bar","stroke":"#000","strokeWidth":1.5},"encoding":{"y":{"field":"v","type":"quantitative","title":"GFP+ cells (%)","scale":{"domain":[0,50]},"axis":{"values":[0,10,20,30,40,50]}},"fill":{"field":"t","type":"nominal","scale":{"domain":["c","m"],"range":["#ffffff","#000000"]},"legend":null}}},
    {"mark":{"type":"rule","strokeWidth":1.3,"color":"#000"},"encoding":{"y":{"field":"v","type":"quantitative","title":"GFP+ cells (%)","axis":{"values":[0,10,20,30,40,50]}},"y2":{"field":"hi"}}},
    {"mark":{"type":"tick","thickness":1.3,"size":12,"color":"#000"},"encoding":{"y":{"field":"hi","type":"quantitative","title":"GFP+ cells (%)","axis":{"values":[0,10,20,30,40,50]}}}},
    {"mark":{"type":"text","dy":-6,"fontWeight":"bold","fontSize":10,"color":"#000"},"encoding":{"y":{"field":"hi","type":"quantitative","title":"GFP+ cells (%)","axis":{"values":[0,10,20,30,40,50]}},"text":{"field":"s"}}}
   ]},
  {"width":108,"height":101,"data":{"name":"bars"},"transform":[{"filter":"datum.p==='F2'"}],
   "encoding":{"x":{"field":"g","type":"nominal","sort":null,"title":null,"scale":{"paddingInner":0.48,"paddingOuter":0.28},"axis":{"labelExpr":"split(datum.label,'|')","labelAngle":0,"labelLineHeight":12,"labelPadding":2}}},
   "layer":[
    {"mark":{"type":"bar","stroke":"#000","strokeWidth":1.5},"encoding":{"y":{"field":"v","type":"quantitative","title":"GFP+ cells (%)","scale":{"domain":[0,50]},"axis":{"values":[0,10,20,30,40,50]}},"fill":{"field":"t","type":"nominal","scale":{"domain":["c","m"],"range":["#ffffff","#000000"]},"legend":null}}},
    {"mark":{"type":"rule","strokeWidth":1.3,"color":"#000"},"encoding":{"y":{"field":"v","type":"quantitative","title":"GFP+ cells (%)","axis":{"values":[0,10,20,30,40,50]}},"y2":{"field":"hi"}}},
    {"mark":{"type":"tick","thickness":1.3,"size":12,"color":"#000"},"encoding":{"y":{"field":"hi","type":"quantitative","title":"GFP+ cells (%)","axis":{"values":[0,10,20,30,40,50]}}}},
    {"mark":{"type":"text","dy":-6,"fontWeight":"bold","fontSize":10,"color":"#000"},"encoding":{"y":{"field":"hi","type":"quantitative","title":"GFP+ cells (%)","axis":{"values":[0,10,20,30,40,50]}},"text":{"field":"s"}}}
   ]}
 ]}
]}
]}
]
}
